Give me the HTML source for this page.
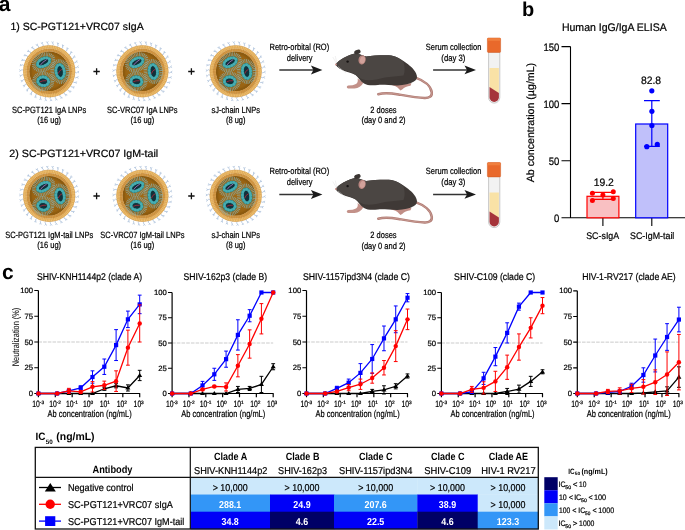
<!DOCTYPE html>
<html><head><meta charset="utf-8"><style>
html,body{margin:0;padding:0;background:#fff;}
svg{display:block;will-change:transform;font-family:"Liberation Sans",sans-serif;text-rendering:geometricPrecision;}
</style></head><body>
<svg width="685" height="530" viewBox="0 0 685 530">
<defs><radialGradient id="lnpin" cx="0.5" cy="0.5" r="0.5"><stop offset="0" stop-color="#a06915"/><stop offset="0.8" stop-color="#9a6413"/><stop offset="1" stop-color="#8c5a0e"/></radialGradient></defs>
<text x="-1.30" y="11.40" font-size="21" font-weight="bold" >a</text>
<text x="10.50" y="30.30" font-size="10.5" stroke="#000" stroke-width="0.22" textLength="133.20" lengthAdjust="spacingAndGlyphs" >1) SC-PGT121+VRC07 sIgA</text>
<g stroke="#a2b9d5" stroke-width="0.7" fill="none" stroke-linejoin="round"><path d="M74.89,72.07 L76.30,72.93 L77.79,72.01 M79.10,71.15 L77.79,72.01 L79.05,73.09"/><path d="M74.31,76.78 L75.54,77.88 L77.17,77.26 M78.62,76.65 L77.17,77.26 L78.21,78.55"/><path d="M72.88,81.30 L73.88,82.61 L75.60,82.29 M77.13,81.96 L75.60,82.29 L76.38,83.75"/><path d="M70.63,85.48 L71.38,86.95 L73.13,86.96 M74.70,86.91 L73.13,86.96 L73.63,88.54"/><path d="M67.66,89.18 L68.13,90.76 L69.85,91.09 M71.40,91.33 L69.85,91.09 L70.05,92.73"/><path d="M64.07,92.26 L64.23,93.91 L65.86,94.55 M67.34,95.07 L65.86,94.55 L65.76,96.20"/><path d="M59.96,94.64 L59.82,96.29 L61.30,97.21 M62.66,98.00 L61.30,97.21 L60.90,98.82"/><path d="M55.49,96.22 L55.05,97.81 L56.34,99.00 M57.53,100.02 L56.34,99.00 L55.64,100.50"/><path d="M50.80,96.95 L50.08,98.44 L51.13,99.84 M52.11,101.06 L51.13,99.84 L50.17,101.18"/><path d="M46.06,96.81 L45.08,98.14 L45.85,99.70 M46.59,101.09 L45.85,99.70 L44.66,100.85"/><path d="M41.43,95.80 L40.22,96.92 L40.69,98.60 M41.16,100.10 L40.69,98.60 L39.31,99.52"/><path d="M37.06,93.95 L35.66,94.83 L35.82,96.58 M36.01,98.13 L35.82,96.58 L34.29,97.22"/><path d="M33.10,91.34 L31.57,91.95 L31.40,93.69 M31.30,95.25 L31.40,93.69 L29.78,94.04"/><path d="M29.70,88.04 L28.08,88.35 L27.59,90.03 M27.20,91.55 L27.59,90.03 L25.94,90.08"/><path d="M26.95,84.17 L25.30,84.18 L24.52,85.74 M23.86,87.17 L24.52,85.74 L22.88,85.49"/><path d="M24.97,79.86 L23.34,79.57 L22.28,80.96 M21.37,82.24 L22.28,80.96 L20.72,80.41"/><path d="M23.81,75.26 L22.26,74.68 L20.96,75.85 M19.84,76.94 L20.96,75.85 L19.53,75.02"/><path d="M23.51,70.53 L22.10,69.67 L20.61,70.59 M19.30,71.45 L20.61,70.59 L19.35,69.51"/><path d="M24.09,65.82 L22.86,64.72 L21.23,65.34 M19.78,65.95 L21.23,65.34 L20.19,64.05"/><path d="M25.52,61.30 L24.52,59.99 L22.80,60.31 M21.27,60.64 L22.80,60.31 L22.02,58.85"/><path d="M27.77,57.12 L27.02,55.65 L25.27,55.64 M23.70,55.69 L25.27,55.64 L24.77,54.06"/><path d="M30.74,53.42 L30.27,51.84 L28.55,51.51 M27.00,51.27 L28.55,51.51 L28.35,49.87"/><path d="M34.33,50.34 L34.17,48.69 L32.54,48.05 M31.06,47.53 L32.54,48.05 L32.64,46.40"/><path d="M38.44,47.96 L38.58,46.31 L37.10,45.39 M35.74,44.60 L37.10,45.39 L37.50,43.78"/><path d="M42.91,46.38 L43.35,44.79 L42.06,43.60 M40.87,42.58 L42.06,43.60 L42.76,42.10"/><path d="M47.60,45.65 L48.32,44.16 L47.27,42.76 M46.29,41.54 L47.27,42.76 L48.23,41.42"/><path d="M52.34,45.79 L53.32,44.46 L52.55,42.90 M51.81,41.51 L52.55,42.90 L53.74,41.75"/><path d="M56.97,46.80 L58.18,45.68 L57.71,44.00 M57.24,42.50 L57.71,44.00 L59.09,43.08"/><path d="M61.34,48.65 L62.74,47.77 L62.58,46.02 M62.39,44.47 L62.58,46.02 L64.11,45.38"/><path d="M65.30,51.26 L66.83,50.65 L67.00,48.91 M67.10,47.35 L67.00,48.91 L68.62,48.56"/><path d="M68.70,54.56 L70.32,54.25 L70.81,52.57 M71.20,51.05 L70.81,52.57 L72.46,52.52"/><path d="M71.45,58.43 L73.10,58.42 L73.88,56.86 M74.54,55.43 L73.88,56.86 L75.52,57.11"/><path d="M73.43,62.74 L75.06,63.03 L76.12,61.64 M77.03,60.36 L76.12,61.64 L77.68,62.19"/><path d="M74.59,67.34 L76.14,67.92 L77.44,66.75 M78.56,65.66 L77.44,66.75 L78.87,67.58"/></g>
<circle cx="49.2" cy="71.3" r="19.9" fill="url(#lnpin)"/>
<circle cx="49.2" cy="71.3" r="24.3" fill="none" stroke="#eab765" stroke-width="3.2"/>
<circle cx="49.2" cy="71.3" r="21.3" fill="none" stroke="#d69c4a" stroke-width="3.0"/>
<circle cx="49.2" cy="71.3" r="24.9" fill="none" stroke="#f4cf86" stroke-width="1.2" stroke-dasharray="0.9 0.9" opacity="0.8"/>
<circle cx="49.2" cy="71.3" r="21.3" fill="none" stroke="#b77e30" stroke-width="3.0" stroke-dasharray="0.5 1.2" opacity="0.5"/>
<circle cx="49.2" cy="71.3" r="22.85" fill="none" stroke="#b98030" stroke-width="5.9" stroke-dasharray="0.5 1.05" opacity="0.35"/>
<circle cx="49.2" cy="71.3" r="25.75" fill="none" stroke="#d09645" stroke-width="0.5"/>
<circle cx="49.2" cy="71.3" r="18.7" fill="none" stroke="#8a5a10" stroke-width="2.0" opacity="0.7"/>
<g transform="translate(43.60,62.30) rotate(-27)"><ellipse rx="10.40" ry="7.50" fill="none" stroke="#89aaa2" stroke-width="3.6" stroke-dasharray="0.8 0.8" opacity="0.85"/><ellipse rx="6.60" ry="3.70" fill="#15333a" stroke="#2d8a90" stroke-width="3.4"/><ellipse rx="6.60" ry="3.70" fill="none" stroke="#48adb1" stroke-width="2.8" stroke-dasharray="0.01 2.7" stroke-linecap="round"/><ellipse rx="4.90" ry="2.00" fill="#12303a"/><path d="M-4.06,1.05 q2.90,-1.80 8.12,-2.10" stroke="#b77acb" stroke-width="0.7" fill="none"/></g>
<g transform="translate(60.10,71.50) rotate(-8)"><ellipse rx="7.90" ry="10.70" fill="none" stroke="#89aaa2" stroke-width="3.6" stroke-dasharray="0.8 0.8" opacity="0.85"/><ellipse rx="4.10" ry="6.90" fill="#15333a" stroke="#2d8a90" stroke-width="3.4"/><ellipse rx="4.10" ry="6.90" fill="none" stroke="#48adb1" stroke-width="2.8" stroke-dasharray="0.01 2.7" stroke-linecap="round"/><ellipse rx="2.40" ry="5.00" fill="#12303a"/><path d="M-2.17,1.89 q1.55,-3.24 4.34,-3.78" stroke="#c0283a" stroke-width="0.7" fill="none"/></g>
<g transform="translate(43.25,81.30) rotate(8)"><ellipse rx="9.25" ry="8.10" fill="none" stroke="#89aaa2" stroke-width="3.6" stroke-dasharray="0.8 0.8" opacity="0.85"/><ellipse rx="5.45" ry="4.30" fill="#15333a" stroke="#2d8a90" stroke-width="3.4"/><ellipse rx="5.45" ry="4.30" fill="none" stroke="#48adb1" stroke-width="2.8" stroke-dasharray="0.01 2.7" stroke-linecap="round"/><ellipse rx="3.75" ry="2.60" fill="#12303a"/><path d="M-3.15,1.05 q2.25,-1.80 6.30,-2.10" stroke="#c0283a" stroke-width="0.7" fill="none"/></g>
<g stroke="#a2b9d5" stroke-width="0.7" fill="none" stroke-linejoin="round"><path d="M168.09,72.07 L169.50,72.93 L170.99,72.01 M172.30,71.15 L170.99,72.01 L172.25,73.09"/><path d="M167.51,76.78 L168.74,77.88 L170.37,77.26 M171.82,76.65 L170.37,77.26 L171.41,78.55"/><path d="M166.08,81.30 L167.08,82.61 L168.80,82.29 M170.33,81.96 L168.80,82.29 L169.58,83.75"/><path d="M163.83,85.48 L164.58,86.95 L166.33,86.96 M167.90,86.91 L166.33,86.96 L166.83,88.54"/><path d="M160.86,89.18 L161.33,90.76 L163.05,91.09 M164.60,91.33 L163.05,91.09 L163.25,92.73"/><path d="M157.27,92.26 L157.43,93.91 L159.06,94.55 M160.54,95.07 L159.06,94.55 L158.96,96.20"/><path d="M153.16,94.64 L153.02,96.29 L154.50,97.21 M155.86,98.00 L154.50,97.21 L154.10,98.82"/><path d="M148.69,96.22 L148.25,97.81 L149.54,99.00 M150.73,100.02 L149.54,99.00 L148.84,100.50"/><path d="M144.00,96.95 L143.28,98.44 L144.33,99.84 M145.31,101.06 L144.33,99.84 L143.37,101.18"/><path d="M139.26,96.81 L138.28,98.14 L139.05,99.70 M139.79,101.09 L139.05,99.70 L137.86,100.85"/><path d="M134.63,95.80 L133.42,96.92 L133.89,98.60 M134.36,100.10 L133.89,98.60 L132.51,99.52"/><path d="M130.26,93.95 L128.86,94.83 L129.02,96.58 M129.21,98.13 L129.02,96.58 L127.49,97.22"/><path d="M126.30,91.34 L124.77,91.95 L124.60,93.69 M124.50,95.25 L124.60,93.69 L122.98,94.04"/><path d="M122.90,88.04 L121.28,88.35 L120.79,90.03 M120.40,91.55 L120.79,90.03 L119.14,90.08"/><path d="M120.15,84.17 L118.50,84.18 L117.72,85.74 M117.06,87.17 L117.72,85.74 L116.08,85.49"/><path d="M118.17,79.86 L116.54,79.57 L115.48,80.96 M114.57,82.24 L115.48,80.96 L113.92,80.41"/><path d="M117.01,75.26 L115.46,74.68 L114.16,75.85 M113.04,76.94 L114.16,75.85 L112.73,75.02"/><path d="M116.71,70.53 L115.30,69.67 L113.81,70.59 M112.50,71.45 L113.81,70.59 L112.55,69.51"/><path d="M117.29,65.82 L116.06,64.72 L114.43,65.34 M112.98,65.95 L114.43,65.34 L113.39,64.05"/><path d="M118.72,61.30 L117.72,59.99 L116.00,60.31 M114.47,60.64 L116.00,60.31 L115.22,58.85"/><path d="M120.97,57.12 L120.22,55.65 L118.47,55.64 M116.90,55.69 L118.47,55.64 L117.97,54.06"/><path d="M123.94,53.42 L123.47,51.84 L121.75,51.51 M120.20,51.27 L121.75,51.51 L121.55,49.87"/><path d="M127.53,50.34 L127.37,48.69 L125.74,48.05 M124.26,47.53 L125.74,48.05 L125.84,46.40"/><path d="M131.64,47.96 L131.78,46.31 L130.30,45.39 M128.94,44.60 L130.30,45.39 L130.70,43.78"/><path d="M136.11,46.38 L136.55,44.79 L135.26,43.60 M134.07,42.58 L135.26,43.60 L135.96,42.10"/><path d="M140.80,45.65 L141.52,44.16 L140.47,42.76 M139.49,41.54 L140.47,42.76 L141.43,41.42"/><path d="M145.54,45.79 L146.52,44.46 L145.75,42.90 M145.01,41.51 L145.75,42.90 L146.94,41.75"/><path d="M150.17,46.80 L151.38,45.68 L150.91,44.00 M150.44,42.50 L150.91,44.00 L152.29,43.08"/><path d="M154.54,48.65 L155.94,47.77 L155.78,46.02 M155.59,44.47 L155.78,46.02 L157.31,45.38"/><path d="M158.50,51.26 L160.03,50.65 L160.20,48.91 M160.30,47.35 L160.20,48.91 L161.82,48.56"/><path d="M161.90,54.56 L163.52,54.25 L164.01,52.57 M164.40,51.05 L164.01,52.57 L165.66,52.52"/><path d="M164.65,58.43 L166.30,58.42 L167.08,56.86 M167.74,55.43 L167.08,56.86 L168.72,57.11"/><path d="M166.63,62.74 L168.26,63.03 L169.32,61.64 M170.23,60.36 L169.32,61.64 L170.88,62.19"/><path d="M167.79,67.34 L169.34,67.92 L170.64,66.75 M171.76,65.66 L170.64,66.75 L172.07,67.58"/></g>
<circle cx="142.4" cy="71.3" r="19.9" fill="url(#lnpin)"/>
<circle cx="142.4" cy="71.3" r="24.3" fill="none" stroke="#eab765" stroke-width="3.2"/>
<circle cx="142.4" cy="71.3" r="21.3" fill="none" stroke="#d69c4a" stroke-width="3.0"/>
<circle cx="142.4" cy="71.3" r="24.9" fill="none" stroke="#f4cf86" stroke-width="1.2" stroke-dasharray="0.9 0.9" opacity="0.8"/>
<circle cx="142.4" cy="71.3" r="21.3" fill="none" stroke="#b77e30" stroke-width="3.0" stroke-dasharray="0.5 1.2" opacity="0.5"/>
<circle cx="142.4" cy="71.3" r="22.85" fill="none" stroke="#b98030" stroke-width="5.9" stroke-dasharray="0.5 1.05" opacity="0.35"/>
<circle cx="142.4" cy="71.3" r="25.75" fill="none" stroke="#d09645" stroke-width="0.5"/>
<circle cx="142.4" cy="71.3" r="18.7" fill="none" stroke="#8a5a10" stroke-width="2.0" opacity="0.7"/>
<g transform="translate(136.80,62.30) rotate(-27)"><ellipse rx="10.40" ry="7.50" fill="none" stroke="#89aaa2" stroke-width="3.6" stroke-dasharray="0.8 0.8" opacity="0.85"/><ellipse rx="6.60" ry="3.70" fill="#15333a" stroke="#2d8a90" stroke-width="3.4"/><ellipse rx="6.60" ry="3.70" fill="none" stroke="#48adb1" stroke-width="2.8" stroke-dasharray="0.01 2.7" stroke-linecap="round"/><ellipse rx="4.90" ry="2.00" fill="#12303a"/><path d="M-4.06,1.05 q2.90,-1.80 8.12,-2.10" stroke="#b77acb" stroke-width="0.7" fill="none"/></g>
<g transform="translate(153.30,71.50) rotate(-8)"><ellipse rx="7.90" ry="10.70" fill="none" stroke="#89aaa2" stroke-width="3.6" stroke-dasharray="0.8 0.8" opacity="0.85"/><ellipse rx="4.10" ry="6.90" fill="#15333a" stroke="#2d8a90" stroke-width="3.4"/><ellipse rx="4.10" ry="6.90" fill="none" stroke="#48adb1" stroke-width="2.8" stroke-dasharray="0.01 2.7" stroke-linecap="round"/><ellipse rx="2.40" ry="5.00" fill="#12303a"/><path d="M-2.17,1.89 q1.55,-3.24 4.34,-3.78" stroke="#c0283a" stroke-width="0.7" fill="none"/></g>
<g transform="translate(136.45,81.30) rotate(8)"><ellipse rx="9.25" ry="8.10" fill="none" stroke="#89aaa2" stroke-width="3.6" stroke-dasharray="0.8 0.8" opacity="0.85"/><ellipse rx="5.45" ry="4.30" fill="#15333a" stroke="#2d8a90" stroke-width="3.4"/><ellipse rx="5.45" ry="4.30" fill="none" stroke="#48adb1" stroke-width="2.8" stroke-dasharray="0.01 2.7" stroke-linecap="round"/><ellipse rx="3.75" ry="2.60" fill="#12303a"/><path d="M-3.15,1.05 q2.25,-1.80 6.30,-2.10" stroke="#c0283a" stroke-width="0.7" fill="none"/></g>
<g stroke="#a2b9d5" stroke-width="0.7" fill="none" stroke-linejoin="round"><path d="M261.39,72.07 L262.80,72.93 L264.29,72.01 M265.60,71.15 L264.29,72.01 L265.55,73.09"/><path d="M260.81,76.78 L262.04,77.88 L263.67,77.26 M265.12,76.65 L263.67,77.26 L264.71,78.55"/><path d="M259.38,81.30 L260.38,82.61 L262.10,82.29 M263.63,81.96 L262.10,82.29 L262.88,83.75"/><path d="M257.13,85.48 L257.88,86.95 L259.63,86.96 M261.20,86.91 L259.63,86.96 L260.13,88.54"/><path d="M254.16,89.18 L254.63,90.76 L256.35,91.09 M257.90,91.33 L256.35,91.09 L256.55,92.73"/><path d="M250.57,92.26 L250.73,93.91 L252.36,94.55 M253.84,95.07 L252.36,94.55 L252.26,96.20"/><path d="M246.46,94.64 L246.32,96.29 L247.80,97.21 M249.16,98.00 L247.80,97.21 L247.40,98.82"/><path d="M241.99,96.22 L241.55,97.81 L242.84,99.00 M244.03,100.02 L242.84,99.00 L242.14,100.50"/><path d="M237.30,96.95 L236.58,98.44 L237.63,99.84 M238.61,101.06 L237.63,99.84 L236.67,101.18"/><path d="M232.56,96.81 L231.58,98.14 L232.35,99.70 M233.09,101.09 L232.35,99.70 L231.16,100.85"/><path d="M227.93,95.80 L226.72,96.92 L227.19,98.60 M227.66,100.10 L227.19,98.60 L225.81,99.52"/><path d="M223.56,93.95 L222.16,94.83 L222.32,96.58 M222.51,98.13 L222.32,96.58 L220.79,97.22"/><path d="M219.60,91.34 L218.07,91.95 L217.90,93.69 M217.80,95.25 L217.90,93.69 L216.28,94.04"/><path d="M216.20,88.04 L214.58,88.35 L214.09,90.03 M213.70,91.55 L214.09,90.03 L212.44,90.08"/><path d="M213.45,84.17 L211.80,84.18 L211.02,85.74 M210.36,87.17 L211.02,85.74 L209.38,85.49"/><path d="M211.47,79.86 L209.84,79.57 L208.78,80.96 M207.87,82.24 L208.78,80.96 L207.22,80.41"/><path d="M210.31,75.26 L208.76,74.68 L207.46,75.85 M206.34,76.94 L207.46,75.85 L206.03,75.02"/><path d="M210.01,70.53 L208.60,69.67 L207.11,70.59 M205.80,71.45 L207.11,70.59 L205.85,69.51"/><path d="M210.59,65.82 L209.36,64.72 L207.73,65.34 M206.28,65.95 L207.73,65.34 L206.69,64.05"/><path d="M212.02,61.30 L211.02,59.99 L209.30,60.31 M207.77,60.64 L209.30,60.31 L208.52,58.85"/><path d="M214.27,57.12 L213.52,55.65 L211.77,55.64 M210.20,55.69 L211.77,55.64 L211.27,54.06"/><path d="M217.24,53.42 L216.77,51.84 L215.05,51.51 M213.50,51.27 L215.05,51.51 L214.85,49.87"/><path d="M220.83,50.34 L220.67,48.69 L219.04,48.05 M217.56,47.53 L219.04,48.05 L219.14,46.40"/><path d="M224.94,47.96 L225.08,46.31 L223.60,45.39 M222.24,44.60 L223.60,45.39 L224.00,43.78"/><path d="M229.41,46.38 L229.85,44.79 L228.56,43.60 M227.37,42.58 L228.56,43.60 L229.26,42.10"/><path d="M234.10,45.65 L234.82,44.16 L233.77,42.76 M232.79,41.54 L233.77,42.76 L234.73,41.42"/><path d="M238.84,45.79 L239.82,44.46 L239.05,42.90 M238.31,41.51 L239.05,42.90 L240.24,41.75"/><path d="M243.47,46.80 L244.68,45.68 L244.21,44.00 M243.74,42.50 L244.21,44.00 L245.59,43.08"/><path d="M247.84,48.65 L249.24,47.77 L249.08,46.02 M248.89,44.47 L249.08,46.02 L250.61,45.38"/><path d="M251.80,51.26 L253.33,50.65 L253.50,48.91 M253.60,47.35 L253.50,48.91 L255.12,48.56"/><path d="M255.20,54.56 L256.82,54.25 L257.31,52.57 M257.70,51.05 L257.31,52.57 L258.96,52.52"/><path d="M257.95,58.43 L259.60,58.42 L260.38,56.86 M261.04,55.43 L260.38,56.86 L262.02,57.11"/><path d="M259.93,62.74 L261.56,63.03 L262.62,61.64 M263.53,60.36 L262.62,61.64 L264.18,62.19"/><path d="M261.09,67.34 L262.64,67.92 L263.94,66.75 M265.06,65.66 L263.94,66.75 L265.37,67.58"/></g>
<circle cx="235.7" cy="71.3" r="19.9" fill="url(#lnpin)"/>
<circle cx="235.7" cy="71.3" r="24.3" fill="none" stroke="#eab765" stroke-width="3.2"/>
<circle cx="235.7" cy="71.3" r="21.3" fill="none" stroke="#d69c4a" stroke-width="3.0"/>
<circle cx="235.7" cy="71.3" r="24.9" fill="none" stroke="#f4cf86" stroke-width="1.2" stroke-dasharray="0.9 0.9" opacity="0.8"/>
<circle cx="235.7" cy="71.3" r="21.3" fill="none" stroke="#b77e30" stroke-width="3.0" stroke-dasharray="0.5 1.2" opacity="0.5"/>
<circle cx="235.7" cy="71.3" r="22.85" fill="none" stroke="#b98030" stroke-width="5.9" stroke-dasharray="0.5 1.05" opacity="0.35"/>
<circle cx="235.7" cy="71.3" r="25.75" fill="none" stroke="#d09645" stroke-width="0.5"/>
<circle cx="235.7" cy="71.3" r="18.7" fill="none" stroke="#8a5a10" stroke-width="2.0" opacity="0.7"/>
<g transform="translate(230.10,62.30) rotate(-27)"><ellipse rx="10.40" ry="7.50" fill="none" stroke="#89aaa2" stroke-width="3.6" stroke-dasharray="0.8 0.8" opacity="0.85"/><ellipse rx="6.60" ry="3.70" fill="#15333a" stroke="#2d8a90" stroke-width="3.4"/><ellipse rx="6.60" ry="3.70" fill="none" stroke="#48adb1" stroke-width="2.8" stroke-dasharray="0.01 2.7" stroke-linecap="round"/><ellipse rx="4.90" ry="2.00" fill="#12303a"/><path d="M-4.06,1.05 q2.90,-1.80 8.12,-2.10" stroke="#b77acb" stroke-width="0.7" fill="none"/></g>
<g transform="translate(246.60,71.50) rotate(-8)"><ellipse rx="7.90" ry="10.70" fill="none" stroke="#89aaa2" stroke-width="3.6" stroke-dasharray="0.8 0.8" opacity="0.85"/><ellipse rx="4.10" ry="6.90" fill="#15333a" stroke="#2d8a90" stroke-width="3.4"/><ellipse rx="4.10" ry="6.90" fill="none" stroke="#48adb1" stroke-width="2.8" stroke-dasharray="0.01 2.7" stroke-linecap="round"/><ellipse rx="2.40" ry="5.00" fill="#12303a"/><path d="M-2.17,1.89 q1.55,-3.24 4.34,-3.78" stroke="#c0283a" stroke-width="0.7" fill="none"/></g>
<g transform="translate(229.75,81.30) rotate(8)"><ellipse rx="9.25" ry="8.10" fill="none" stroke="#89aaa2" stroke-width="3.6" stroke-dasharray="0.8 0.8" opacity="0.85"/><ellipse rx="5.45" ry="4.30" fill="#15333a" stroke="#2d8a90" stroke-width="3.4"/><ellipse rx="5.45" ry="4.30" fill="none" stroke="#48adb1" stroke-width="2.8" stroke-dasharray="0.01 2.7" stroke-linecap="round"/><ellipse rx="3.75" ry="2.60" fill="#12303a"/><path d="M-3.15,1.05 q2.25,-1.80 6.30,-2.10" stroke="#c0283a" stroke-width="0.7" fill="none"/></g>
<path d="M93.39999999999999,71.5 h6.4 M96.6,68.3 v6.4" stroke="#111" stroke-width="1.3"/>
<path d="M188.20000000000002,71.5 h6.4 M191.4,68.3 v6.4" stroke="#111" stroke-width="1.3"/>
<text x="12.03" y="112.80" font-size="9.1" stroke="#000" stroke-width="0.22" textLength="74.27" lengthAdjust="spacingAndGlyphs" >SC-PGT121 IgA LNPs</text>
<text x="37.31" y="123.30" font-size="9.1" stroke="#000" stroke-width="0.22" textLength="23.79" lengthAdjust="spacingAndGlyphs" >(16 ug)</text>
<text x="107.11" y="112.80" font-size="9.1" stroke="#000" stroke-width="0.22" textLength="70.52" lengthAdjust="spacingAndGlyphs" >SC-VRC07 IgA LNPs</text>
<text x="130.51" y="123.30" font-size="9.1" stroke="#000" stroke-width="0.22" textLength="23.79" lengthAdjust="spacingAndGlyphs" >(16 ug)</text>
<text x="211.53" y="112.80" font-size="9.1" stroke="#000" stroke-width="0.22" textLength="48.40" lengthAdjust="spacingAndGlyphs" >sJ-chain LNPs</text>
<text x="225.90" y="123.30" font-size="9.1" stroke="#000" stroke-width="0.22" textLength="19.61" lengthAdjust="spacingAndGlyphs" >(8 ug)</text>
<text x="269.50" y="49.70" font-size="9.1" stroke="#000" stroke-width="0.22" textLength="59.65" lengthAdjust="spacingAndGlyphs" >Retro-orbital (RO)</text>
<text x="286.71" y="60.70" font-size="9.1" stroke="#000" stroke-width="0.22" textLength="25.87" lengthAdjust="spacingAndGlyphs" >delivery</text>
<line x1="279.3" y1="70" x2="316.4" y2="70" stroke="#333" stroke-width="1.5"/>
<path d="M322.4,70 L310.9,65.6 L313.4,70 L310.9,74.4 Z" fill="#1a1a1a"/>
<g transform="translate(0,0)">
<path d="M415.5,77.6 C424,80.5 431,86 431.8,92.5 C432.2,96.5 429,98.2 424.5,98 C416,97.6 406,95.7 398.5,94.4 C390.5,93 383.5,92.6 378.3,94.2" stroke="#b07c74" stroke-width="2.5" fill="none" stroke-linecap="round"/>
<path d="M415.5,77.6 C424,80.5 431,86 431.8,92.5 C432.2,96.5 429,98.2 424.5,98 C416,97.6 406,95.7 398.5,94.4 C390.5,93 383.5,92.6 378.3,94.2" stroke="#c99c94" stroke-width="0.9" fill="none" stroke-linecap="round"/>
<path d="M390.5,84.6 C394,85.8 397.5,86.8 399,89 L400.5,90.4 L402.5,89.2 C404,87.5 407,86.5 410.5,85.8 L411.5,83.2 Z" fill="#c08d85"/>
<path d="M357.5,78.5 C358.5,82 357,84.5 352.5,85.2 L348,85.6 C346.3,86.2 346.4,88.2 348.2,88.6 L354.5,88.6 C358.5,88.3 361.5,86.3 363.5,82.5 Z" fill="#c39189"/>
<path d="M335.5,64.4 C339,59.5 347,55.5 353.9,53.7 C358,52.8 362,55.5 366.2,56.5 C372,55.6 382,55 388.8,55.3 C396,55.8 402,59.5 406.3,63.1 C411,66.5 415.5,70.5 416.8,75.4 C417.5,78 416.5,80 413.5,81.8 C410,84 404,85.2 397.5,85.5 C390,85.6 384,84.5 378,85 C372,85.6 367,85.4 364,83.5 C360,81 358.5,77.5 355.6,74.9 C352,73 348,72.2 345.1,71.2 C341,69.6 337.5,67.8 335.5,64.4 Z" fill="#3f3936"/>
<path d="M335.5,64.4 C339,59.5 347,55.5 353.9,53.7 C358,52.8 362,55.5 366.2,56.5 C372,55.6 382,55 388.8,55.3 C395,55.7 400,58.5 403.5,62 C405,67 405,72 403.5,75.4 C398,76.5 390,76.2 385,77.5 C378,79.5 371,80.5 365.5,80 C361,79 358.5,77 355.6,74.9 C352,72.5 348,71.6 345.1,70.5 C341,69 337.5,67.6 335.5,64.4 Z" fill="#4b4643"/>
<ellipse cx="357.4" cy="51.9" rx="3.3" ry="2.1" transform="rotate(-18 357.4 51.9)" fill="#3a3532"/>
<ellipse cx="362.1" cy="59.8" rx="3.6" ry="4.7" transform="rotate(12 362.1 59.8)" fill="#b8857f"/>
<ellipse cx="362.5" cy="60" rx="2.5" ry="3.6" transform="rotate(12 362.5 60)" fill="#d2a29b"/>
<circle cx="347.6" cy="61.6" r="1.2" fill="#151212"/>
<ellipse cx="335.9" cy="64.5" rx="0.9" ry="1.1" fill="#d49a94"/>
<path d="M336.3,63.2 l-3.5,-6.2 M336.8,63 l-1.5,-7 M338,66.5 l8,6.5" stroke="#e0e0e0" stroke-width="0.45"/>
</g>
<text x="370.30" y="112.70" font-size="9.1" stroke="#000" stroke-width="0.22" textLength="26.29" lengthAdjust="spacingAndGlyphs" >2 doses</text>
<text x="361.38" y="123.00" font-size="9.1" stroke="#000" stroke-width="0.22" textLength="44.24" lengthAdjust="spacingAndGlyphs" >(day 0 and 2)</text>
<text x="425.82" y="49.70" font-size="9.1" stroke="#000" stroke-width="0.22" textLength="55.50" lengthAdjust="spacingAndGlyphs" >Serum collection</text>
<text x="441.36" y="60.60" font-size="9.1" stroke="#000" stroke-width="0.22" textLength="24.07" lengthAdjust="spacingAndGlyphs" >(day 3)</text>
<line x1="433.1" y1="69.9" x2="470" y2="69.9" stroke="#333" stroke-width="1.5"/>
<path d="M476,69.9 L464.5,65.5 L467,69.9 L464.5,74.30000000000001 Z" fill="#1a1a1a"/>
<g transform="translate(0,0)">
<path d="M488.6,52 L488.6,97.5 A5.6,5.6 0 0 0 499.8,97.5 L499.8,52 Z" fill="#f2f2f2" stroke="#bdbdbd" stroke-width="0.8"/>
<path d="M489.5,68 L498.9,68 L498.9,93.2 L489.5,87.2 Z" fill="#f9e2a6"/>
<path d="M489.5,87.0 L498.9,93.0 L498.9,97.2 A4.7,4.7 0 0 1 489.5,97.2 Z" fill="#a5343a"/>
<rect x="487.4" y="38.0" width="13.2" height="14.4" rx="1" fill="#e9692b" stroke="#cf5820" stroke-width="0.5"/>
<rect x="487.6" y="38.2" width="12.8" height="2.6" fill="#f07f3e"/>
</g>
<text x="9.37" y="156.80" font-size="10.5" stroke="#000" stroke-width="0.22" textLength="148.84" lengthAdjust="spacingAndGlyphs" >2) SC-PGT121+VRC07 IgM-tail</text>
<g stroke="#a2b9d5" stroke-width="0.7" fill="none" stroke-linejoin="round"><path d="M74.89,196.57 L76.30,197.43 L77.79,196.51 M79.10,195.65 L77.79,196.51 L79.05,197.59"/><path d="M74.31,201.28 L75.54,202.38 L77.17,201.76 M78.62,201.15 L77.17,201.76 L78.21,203.05"/><path d="M72.88,205.80 L73.88,207.11 L75.60,206.79 M77.13,206.46 L75.60,206.79 L76.38,208.25"/><path d="M70.63,209.98 L71.38,211.45 L73.13,211.46 M74.70,211.41 L73.13,211.46 L73.63,213.04"/><path d="M67.66,213.68 L68.13,215.26 L69.85,215.59 M71.40,215.83 L69.85,215.59 L70.05,217.23"/><path d="M64.07,216.76 L64.23,218.41 L65.86,219.05 M67.34,219.57 L65.86,219.05 L65.76,220.70"/><path d="M59.96,219.14 L59.82,220.79 L61.30,221.71 M62.66,222.50 L61.30,221.71 L60.90,223.32"/><path d="M55.49,220.72 L55.05,222.31 L56.34,223.50 M57.53,224.52 L56.34,223.50 L55.64,225.00"/><path d="M50.80,221.45 L50.08,222.94 L51.13,224.34 M52.11,225.56 L51.13,224.34 L50.17,225.68"/><path d="M46.06,221.31 L45.08,222.64 L45.85,224.20 M46.59,225.59 L45.85,224.20 L44.66,225.35"/><path d="M41.43,220.30 L40.22,221.42 L40.69,223.10 M41.16,224.60 L40.69,223.10 L39.31,224.02"/><path d="M37.06,218.45 L35.66,219.33 L35.82,221.08 M36.01,222.63 L35.82,221.08 L34.29,221.72"/><path d="M33.10,215.84 L31.57,216.45 L31.40,218.19 M31.30,219.75 L31.40,218.19 L29.78,218.54"/><path d="M29.70,212.54 L28.08,212.85 L27.59,214.53 M27.20,216.05 L27.59,214.53 L25.94,214.58"/><path d="M26.95,208.67 L25.30,208.68 L24.52,210.24 M23.86,211.67 L24.52,210.24 L22.88,209.99"/><path d="M24.97,204.36 L23.34,204.07 L22.28,205.46 M21.37,206.74 L22.28,205.46 L20.72,204.91"/><path d="M23.81,199.76 L22.26,199.18 L20.96,200.35 M19.84,201.44 L20.96,200.35 L19.53,199.52"/><path d="M23.51,195.03 L22.10,194.17 L20.61,195.09 M19.30,195.95 L20.61,195.09 L19.35,194.01"/><path d="M24.09,190.32 L22.86,189.22 L21.23,189.84 M19.78,190.45 L21.23,189.84 L20.19,188.55"/><path d="M25.52,185.80 L24.52,184.49 L22.80,184.81 M21.27,185.14 L22.80,184.81 L22.02,183.35"/><path d="M27.77,181.62 L27.02,180.15 L25.27,180.14 M23.70,180.19 L25.27,180.14 L24.77,178.56"/><path d="M30.74,177.92 L30.27,176.34 L28.55,176.01 M27.00,175.77 L28.55,176.01 L28.35,174.37"/><path d="M34.33,174.84 L34.17,173.19 L32.54,172.55 M31.06,172.03 L32.54,172.55 L32.64,170.90"/><path d="M38.44,172.46 L38.58,170.81 L37.10,169.89 M35.74,169.10 L37.10,169.89 L37.50,168.28"/><path d="M42.91,170.88 L43.35,169.29 L42.06,168.10 M40.87,167.08 L42.06,168.10 L42.76,166.60"/><path d="M47.60,170.15 L48.32,168.66 L47.27,167.26 M46.29,166.04 L47.27,167.26 L48.23,165.92"/><path d="M52.34,170.29 L53.32,168.96 L52.55,167.40 M51.81,166.01 L52.55,167.40 L53.74,166.25"/><path d="M56.97,171.30 L58.18,170.18 L57.71,168.50 M57.24,167.00 L57.71,168.50 L59.09,167.58"/><path d="M61.34,173.15 L62.74,172.27 L62.58,170.52 M62.39,168.97 L62.58,170.52 L64.11,169.88"/><path d="M65.30,175.76 L66.83,175.15 L67.00,173.41 M67.10,171.85 L67.00,173.41 L68.62,173.06"/><path d="M68.70,179.06 L70.32,178.75 L70.81,177.07 M71.20,175.55 L70.81,177.07 L72.46,177.02"/><path d="M71.45,182.93 L73.10,182.92 L73.88,181.36 M74.54,179.93 L73.88,181.36 L75.52,181.61"/><path d="M73.43,187.24 L75.06,187.53 L76.12,186.14 M77.03,184.86 L76.12,186.14 L77.68,186.69"/><path d="M74.59,191.84 L76.14,192.42 L77.44,191.25 M78.56,190.16 L77.44,191.25 L78.87,192.08"/></g>
<circle cx="49.2" cy="195.8" r="19.9" fill="url(#lnpin)"/>
<circle cx="49.2" cy="195.8" r="24.3" fill="none" stroke="#eab765" stroke-width="3.2"/>
<circle cx="49.2" cy="195.8" r="21.3" fill="none" stroke="#d69c4a" stroke-width="3.0"/>
<circle cx="49.2" cy="195.8" r="24.9" fill="none" stroke="#f4cf86" stroke-width="1.2" stroke-dasharray="0.9 0.9" opacity="0.8"/>
<circle cx="49.2" cy="195.8" r="21.3" fill="none" stroke="#b77e30" stroke-width="3.0" stroke-dasharray="0.5 1.2" opacity="0.5"/>
<circle cx="49.2" cy="195.8" r="22.85" fill="none" stroke="#b98030" stroke-width="5.9" stroke-dasharray="0.5 1.05" opacity="0.35"/>
<circle cx="49.2" cy="195.8" r="25.75" fill="none" stroke="#d09645" stroke-width="0.5"/>
<circle cx="49.2" cy="195.8" r="18.7" fill="none" stroke="#8a5a10" stroke-width="2.0" opacity="0.7"/>
<g transform="translate(43.60,186.80) rotate(-27)"><ellipse rx="10.40" ry="7.50" fill="none" stroke="#89aaa2" stroke-width="3.6" stroke-dasharray="0.8 0.8" opacity="0.85"/><ellipse rx="6.60" ry="3.70" fill="#15333a" stroke="#2d8a90" stroke-width="3.4"/><ellipse rx="6.60" ry="3.70" fill="none" stroke="#48adb1" stroke-width="2.8" stroke-dasharray="0.01 2.7" stroke-linecap="round"/><ellipse rx="4.90" ry="2.00" fill="#12303a"/><path d="M-4.06,1.05 q2.90,-1.80 8.12,-2.10" stroke="#b77acb" stroke-width="0.7" fill="none"/></g>
<g transform="translate(60.10,196.00) rotate(-8)"><ellipse rx="7.90" ry="10.70" fill="none" stroke="#89aaa2" stroke-width="3.6" stroke-dasharray="0.8 0.8" opacity="0.85"/><ellipse rx="4.10" ry="6.90" fill="#15333a" stroke="#2d8a90" stroke-width="3.4"/><ellipse rx="4.10" ry="6.90" fill="none" stroke="#48adb1" stroke-width="2.8" stroke-dasharray="0.01 2.7" stroke-linecap="round"/><ellipse rx="2.40" ry="5.00" fill="#12303a"/><path d="M-2.17,1.89 q1.55,-3.24 4.34,-3.78" stroke="#c0283a" stroke-width="0.7" fill="none"/></g>
<g transform="translate(43.25,205.80) rotate(8)"><ellipse rx="9.25" ry="8.10" fill="none" stroke="#89aaa2" stroke-width="3.6" stroke-dasharray="0.8 0.8" opacity="0.85"/><ellipse rx="5.45" ry="4.30" fill="#15333a" stroke="#2d8a90" stroke-width="3.4"/><ellipse rx="5.45" ry="4.30" fill="none" stroke="#48adb1" stroke-width="2.8" stroke-dasharray="0.01 2.7" stroke-linecap="round"/><ellipse rx="3.75" ry="2.60" fill="#12303a"/><path d="M-3.15,1.05 q2.25,-1.80 6.30,-2.10" stroke="#c0283a" stroke-width="0.7" fill="none"/></g>
<g stroke="#a2b9d5" stroke-width="0.7" fill="none" stroke-linejoin="round"><path d="M168.09,196.57 L169.50,197.43 L170.99,196.51 M172.30,195.65 L170.99,196.51 L172.25,197.59"/><path d="M167.51,201.28 L168.74,202.38 L170.37,201.76 M171.82,201.15 L170.37,201.76 L171.41,203.05"/><path d="M166.08,205.80 L167.08,207.11 L168.80,206.79 M170.33,206.46 L168.80,206.79 L169.58,208.25"/><path d="M163.83,209.98 L164.58,211.45 L166.33,211.46 M167.90,211.41 L166.33,211.46 L166.83,213.04"/><path d="M160.86,213.68 L161.33,215.26 L163.05,215.59 M164.60,215.83 L163.05,215.59 L163.25,217.23"/><path d="M157.27,216.76 L157.43,218.41 L159.06,219.05 M160.54,219.57 L159.06,219.05 L158.96,220.70"/><path d="M153.16,219.14 L153.02,220.79 L154.50,221.71 M155.86,222.50 L154.50,221.71 L154.10,223.32"/><path d="M148.69,220.72 L148.25,222.31 L149.54,223.50 M150.73,224.52 L149.54,223.50 L148.84,225.00"/><path d="M144.00,221.45 L143.28,222.94 L144.33,224.34 M145.31,225.56 L144.33,224.34 L143.37,225.68"/><path d="M139.26,221.31 L138.28,222.64 L139.05,224.20 M139.79,225.59 L139.05,224.20 L137.86,225.35"/><path d="M134.63,220.30 L133.42,221.42 L133.89,223.10 M134.36,224.60 L133.89,223.10 L132.51,224.02"/><path d="M130.26,218.45 L128.86,219.33 L129.02,221.08 M129.21,222.63 L129.02,221.08 L127.49,221.72"/><path d="M126.30,215.84 L124.77,216.45 L124.60,218.19 M124.50,219.75 L124.60,218.19 L122.98,218.54"/><path d="M122.90,212.54 L121.28,212.85 L120.79,214.53 M120.40,216.05 L120.79,214.53 L119.14,214.58"/><path d="M120.15,208.67 L118.50,208.68 L117.72,210.24 M117.06,211.67 L117.72,210.24 L116.08,209.99"/><path d="M118.17,204.36 L116.54,204.07 L115.48,205.46 M114.57,206.74 L115.48,205.46 L113.92,204.91"/><path d="M117.01,199.76 L115.46,199.18 L114.16,200.35 M113.04,201.44 L114.16,200.35 L112.73,199.52"/><path d="M116.71,195.03 L115.30,194.17 L113.81,195.09 M112.50,195.95 L113.81,195.09 L112.55,194.01"/><path d="M117.29,190.32 L116.06,189.22 L114.43,189.84 M112.98,190.45 L114.43,189.84 L113.39,188.55"/><path d="M118.72,185.80 L117.72,184.49 L116.00,184.81 M114.47,185.14 L116.00,184.81 L115.22,183.35"/><path d="M120.97,181.62 L120.22,180.15 L118.47,180.14 M116.90,180.19 L118.47,180.14 L117.97,178.56"/><path d="M123.94,177.92 L123.47,176.34 L121.75,176.01 M120.20,175.77 L121.75,176.01 L121.55,174.37"/><path d="M127.53,174.84 L127.37,173.19 L125.74,172.55 M124.26,172.03 L125.74,172.55 L125.84,170.90"/><path d="M131.64,172.46 L131.78,170.81 L130.30,169.89 M128.94,169.10 L130.30,169.89 L130.70,168.28"/><path d="M136.11,170.88 L136.55,169.29 L135.26,168.10 M134.07,167.08 L135.26,168.10 L135.96,166.60"/><path d="M140.80,170.15 L141.52,168.66 L140.47,167.26 M139.49,166.04 L140.47,167.26 L141.43,165.92"/><path d="M145.54,170.29 L146.52,168.96 L145.75,167.40 M145.01,166.01 L145.75,167.40 L146.94,166.25"/><path d="M150.17,171.30 L151.38,170.18 L150.91,168.50 M150.44,167.00 L150.91,168.50 L152.29,167.58"/><path d="M154.54,173.15 L155.94,172.27 L155.78,170.52 M155.59,168.97 L155.78,170.52 L157.31,169.88"/><path d="M158.50,175.76 L160.03,175.15 L160.20,173.41 M160.30,171.85 L160.20,173.41 L161.82,173.06"/><path d="M161.90,179.06 L163.52,178.75 L164.01,177.07 M164.40,175.55 L164.01,177.07 L165.66,177.02"/><path d="M164.65,182.93 L166.30,182.92 L167.08,181.36 M167.74,179.93 L167.08,181.36 L168.72,181.61"/><path d="M166.63,187.24 L168.26,187.53 L169.32,186.14 M170.23,184.86 L169.32,186.14 L170.88,186.69"/><path d="M167.79,191.84 L169.34,192.42 L170.64,191.25 M171.76,190.16 L170.64,191.25 L172.07,192.08"/></g>
<circle cx="142.4" cy="195.8" r="19.9" fill="url(#lnpin)"/>
<circle cx="142.4" cy="195.8" r="24.3" fill="none" stroke="#eab765" stroke-width="3.2"/>
<circle cx="142.4" cy="195.8" r="21.3" fill="none" stroke="#d69c4a" stroke-width="3.0"/>
<circle cx="142.4" cy="195.8" r="24.9" fill="none" stroke="#f4cf86" stroke-width="1.2" stroke-dasharray="0.9 0.9" opacity="0.8"/>
<circle cx="142.4" cy="195.8" r="21.3" fill="none" stroke="#b77e30" stroke-width="3.0" stroke-dasharray="0.5 1.2" opacity="0.5"/>
<circle cx="142.4" cy="195.8" r="22.85" fill="none" stroke="#b98030" stroke-width="5.9" stroke-dasharray="0.5 1.05" opacity="0.35"/>
<circle cx="142.4" cy="195.8" r="25.75" fill="none" stroke="#d09645" stroke-width="0.5"/>
<circle cx="142.4" cy="195.8" r="18.7" fill="none" stroke="#8a5a10" stroke-width="2.0" opacity="0.7"/>
<g transform="translate(136.80,186.80) rotate(-27)"><ellipse rx="10.40" ry="7.50" fill="none" stroke="#89aaa2" stroke-width="3.6" stroke-dasharray="0.8 0.8" opacity="0.85"/><ellipse rx="6.60" ry="3.70" fill="#15333a" stroke="#2d8a90" stroke-width="3.4"/><ellipse rx="6.60" ry="3.70" fill="none" stroke="#48adb1" stroke-width="2.8" stroke-dasharray="0.01 2.7" stroke-linecap="round"/><ellipse rx="4.90" ry="2.00" fill="#12303a"/><path d="M-4.06,1.05 q2.90,-1.80 8.12,-2.10" stroke="#b77acb" stroke-width="0.7" fill="none"/></g>
<g transform="translate(153.30,196.00) rotate(-8)"><ellipse rx="7.90" ry="10.70" fill="none" stroke="#89aaa2" stroke-width="3.6" stroke-dasharray="0.8 0.8" opacity="0.85"/><ellipse rx="4.10" ry="6.90" fill="#15333a" stroke="#2d8a90" stroke-width="3.4"/><ellipse rx="4.10" ry="6.90" fill="none" stroke="#48adb1" stroke-width="2.8" stroke-dasharray="0.01 2.7" stroke-linecap="round"/><ellipse rx="2.40" ry="5.00" fill="#12303a"/><path d="M-2.17,1.89 q1.55,-3.24 4.34,-3.78" stroke="#c0283a" stroke-width="0.7" fill="none"/></g>
<g transform="translate(136.45,205.80) rotate(8)"><ellipse rx="9.25" ry="8.10" fill="none" stroke="#89aaa2" stroke-width="3.6" stroke-dasharray="0.8 0.8" opacity="0.85"/><ellipse rx="5.45" ry="4.30" fill="#15333a" stroke="#2d8a90" stroke-width="3.4"/><ellipse rx="5.45" ry="4.30" fill="none" stroke="#48adb1" stroke-width="2.8" stroke-dasharray="0.01 2.7" stroke-linecap="round"/><ellipse rx="3.75" ry="2.60" fill="#12303a"/><path d="M-3.15,1.05 q2.25,-1.80 6.30,-2.10" stroke="#c0283a" stroke-width="0.7" fill="none"/></g>
<g stroke="#a2b9d5" stroke-width="0.7" fill="none" stroke-linejoin="round"><path d="M261.39,196.57 L262.80,197.43 L264.29,196.51 M265.60,195.65 L264.29,196.51 L265.55,197.59"/><path d="M260.81,201.28 L262.04,202.38 L263.67,201.76 M265.12,201.15 L263.67,201.76 L264.71,203.05"/><path d="M259.38,205.80 L260.38,207.11 L262.10,206.79 M263.63,206.46 L262.10,206.79 L262.88,208.25"/><path d="M257.13,209.98 L257.88,211.45 L259.63,211.46 M261.20,211.41 L259.63,211.46 L260.13,213.04"/><path d="M254.16,213.68 L254.63,215.26 L256.35,215.59 M257.90,215.83 L256.35,215.59 L256.55,217.23"/><path d="M250.57,216.76 L250.73,218.41 L252.36,219.05 M253.84,219.57 L252.36,219.05 L252.26,220.70"/><path d="M246.46,219.14 L246.32,220.79 L247.80,221.71 M249.16,222.50 L247.80,221.71 L247.40,223.32"/><path d="M241.99,220.72 L241.55,222.31 L242.84,223.50 M244.03,224.52 L242.84,223.50 L242.14,225.00"/><path d="M237.30,221.45 L236.58,222.94 L237.63,224.34 M238.61,225.56 L237.63,224.34 L236.67,225.68"/><path d="M232.56,221.31 L231.58,222.64 L232.35,224.20 M233.09,225.59 L232.35,224.20 L231.16,225.35"/><path d="M227.93,220.30 L226.72,221.42 L227.19,223.10 M227.66,224.60 L227.19,223.10 L225.81,224.02"/><path d="M223.56,218.45 L222.16,219.33 L222.32,221.08 M222.51,222.63 L222.32,221.08 L220.79,221.72"/><path d="M219.60,215.84 L218.07,216.45 L217.90,218.19 M217.80,219.75 L217.90,218.19 L216.28,218.54"/><path d="M216.20,212.54 L214.58,212.85 L214.09,214.53 M213.70,216.05 L214.09,214.53 L212.44,214.58"/><path d="M213.45,208.67 L211.80,208.68 L211.02,210.24 M210.36,211.67 L211.02,210.24 L209.38,209.99"/><path d="M211.47,204.36 L209.84,204.07 L208.78,205.46 M207.87,206.74 L208.78,205.46 L207.22,204.91"/><path d="M210.31,199.76 L208.76,199.18 L207.46,200.35 M206.34,201.44 L207.46,200.35 L206.03,199.52"/><path d="M210.01,195.03 L208.60,194.17 L207.11,195.09 M205.80,195.95 L207.11,195.09 L205.85,194.01"/><path d="M210.59,190.32 L209.36,189.22 L207.73,189.84 M206.28,190.45 L207.73,189.84 L206.69,188.55"/><path d="M212.02,185.80 L211.02,184.49 L209.30,184.81 M207.77,185.14 L209.30,184.81 L208.52,183.35"/><path d="M214.27,181.62 L213.52,180.15 L211.77,180.14 M210.20,180.19 L211.77,180.14 L211.27,178.56"/><path d="M217.24,177.92 L216.77,176.34 L215.05,176.01 M213.50,175.77 L215.05,176.01 L214.85,174.37"/><path d="M220.83,174.84 L220.67,173.19 L219.04,172.55 M217.56,172.03 L219.04,172.55 L219.14,170.90"/><path d="M224.94,172.46 L225.08,170.81 L223.60,169.89 M222.24,169.10 L223.60,169.89 L224.00,168.28"/><path d="M229.41,170.88 L229.85,169.29 L228.56,168.10 M227.37,167.08 L228.56,168.10 L229.26,166.60"/><path d="M234.10,170.15 L234.82,168.66 L233.77,167.26 M232.79,166.04 L233.77,167.26 L234.73,165.92"/><path d="M238.84,170.29 L239.82,168.96 L239.05,167.40 M238.31,166.01 L239.05,167.40 L240.24,166.25"/><path d="M243.47,171.30 L244.68,170.18 L244.21,168.50 M243.74,167.00 L244.21,168.50 L245.59,167.58"/><path d="M247.84,173.15 L249.24,172.27 L249.08,170.52 M248.89,168.97 L249.08,170.52 L250.61,169.88"/><path d="M251.80,175.76 L253.33,175.15 L253.50,173.41 M253.60,171.85 L253.50,173.41 L255.12,173.06"/><path d="M255.20,179.06 L256.82,178.75 L257.31,177.07 M257.70,175.55 L257.31,177.07 L258.96,177.02"/><path d="M257.95,182.93 L259.60,182.92 L260.38,181.36 M261.04,179.93 L260.38,181.36 L262.02,181.61"/><path d="M259.93,187.24 L261.56,187.53 L262.62,186.14 M263.53,184.86 L262.62,186.14 L264.18,186.69"/><path d="M261.09,191.84 L262.64,192.42 L263.94,191.25 M265.06,190.16 L263.94,191.25 L265.37,192.08"/></g>
<circle cx="235.7" cy="195.8" r="19.9" fill="url(#lnpin)"/>
<circle cx="235.7" cy="195.8" r="24.3" fill="none" stroke="#eab765" stroke-width="3.2"/>
<circle cx="235.7" cy="195.8" r="21.3" fill="none" stroke="#d69c4a" stroke-width="3.0"/>
<circle cx="235.7" cy="195.8" r="24.9" fill="none" stroke="#f4cf86" stroke-width="1.2" stroke-dasharray="0.9 0.9" opacity="0.8"/>
<circle cx="235.7" cy="195.8" r="21.3" fill="none" stroke="#b77e30" stroke-width="3.0" stroke-dasharray="0.5 1.2" opacity="0.5"/>
<circle cx="235.7" cy="195.8" r="22.85" fill="none" stroke="#b98030" stroke-width="5.9" stroke-dasharray="0.5 1.05" opacity="0.35"/>
<circle cx="235.7" cy="195.8" r="25.75" fill="none" stroke="#d09645" stroke-width="0.5"/>
<circle cx="235.7" cy="195.8" r="18.7" fill="none" stroke="#8a5a10" stroke-width="2.0" opacity="0.7"/>
<g transform="translate(230.10,186.80) rotate(-27)"><ellipse rx="10.40" ry="7.50" fill="none" stroke="#89aaa2" stroke-width="3.6" stroke-dasharray="0.8 0.8" opacity="0.85"/><ellipse rx="6.60" ry="3.70" fill="#15333a" stroke="#2d8a90" stroke-width="3.4"/><ellipse rx="6.60" ry="3.70" fill="none" stroke="#48adb1" stroke-width="2.8" stroke-dasharray="0.01 2.7" stroke-linecap="round"/><ellipse rx="4.90" ry="2.00" fill="#12303a"/><path d="M-4.06,1.05 q2.90,-1.80 8.12,-2.10" stroke="#b77acb" stroke-width="0.7" fill="none"/></g>
<g transform="translate(246.60,196.00) rotate(-8)"><ellipse rx="7.90" ry="10.70" fill="none" stroke="#89aaa2" stroke-width="3.6" stroke-dasharray="0.8 0.8" opacity="0.85"/><ellipse rx="4.10" ry="6.90" fill="#15333a" stroke="#2d8a90" stroke-width="3.4"/><ellipse rx="4.10" ry="6.90" fill="none" stroke="#48adb1" stroke-width="2.8" stroke-dasharray="0.01 2.7" stroke-linecap="round"/><ellipse rx="2.40" ry="5.00" fill="#12303a"/><path d="M-2.17,1.89 q1.55,-3.24 4.34,-3.78" stroke="#c0283a" stroke-width="0.7" fill="none"/></g>
<g transform="translate(229.75,205.80) rotate(8)"><ellipse rx="9.25" ry="8.10" fill="none" stroke="#89aaa2" stroke-width="3.6" stroke-dasharray="0.8 0.8" opacity="0.85"/><ellipse rx="5.45" ry="4.30" fill="#15333a" stroke="#2d8a90" stroke-width="3.4"/><ellipse rx="5.45" ry="4.30" fill="none" stroke="#48adb1" stroke-width="2.8" stroke-dasharray="0.01 2.7" stroke-linecap="round"/><ellipse rx="3.75" ry="2.60" fill="#12303a"/><path d="M-3.15,1.05 q2.25,-1.80 6.30,-2.10" stroke="#c0283a" stroke-width="0.7" fill="none"/></g>
<path d="M93.39999999999999,196.0 h6.4 M96.6,192.8 v6.4" stroke="#111" stroke-width="1.3"/>
<path d="M188.20000000000002,196.0 h6.4 M191.4,192.8 v6.4" stroke="#111" stroke-width="1.3"/>
<text x="5.15" y="237.90" font-size="9.1" stroke="#000" stroke-width="0.22" textLength="88.03" lengthAdjust="spacingAndGlyphs" >SC-PGT121 IgM-tail LNPs</text>
<text x="37.31" y="248.40" font-size="9.1" stroke="#000" stroke-width="0.22" textLength="23.79" lengthAdjust="spacingAndGlyphs" >(16 ug)</text>
<text x="100.23" y="237.90" font-size="9.1" stroke="#000" stroke-width="0.22" textLength="84.27" lengthAdjust="spacingAndGlyphs" >SC-VRC07 IgM-tail LNPs</text>
<text x="130.51" y="248.40" font-size="9.1" stroke="#000" stroke-width="0.22" textLength="23.79" lengthAdjust="spacingAndGlyphs" >(16 ug)</text>
<text x="211.53" y="237.90" font-size="9.1" stroke="#000" stroke-width="0.22" textLength="48.40" lengthAdjust="spacingAndGlyphs" >sJ-chain LNPs</text>
<text x="225.90" y="248.40" font-size="9.1" stroke="#000" stroke-width="0.22" textLength="19.61" lengthAdjust="spacingAndGlyphs" >(8 ug)</text>
<text x="269.50" y="173.70" font-size="9.1" stroke="#000" stroke-width="0.22" textLength="59.65" lengthAdjust="spacingAndGlyphs" >Retro-orbital (RO)</text>
<text x="286.71" y="184.70" font-size="9.1" stroke="#000" stroke-width="0.22" textLength="25.87" lengthAdjust="spacingAndGlyphs" >delivery</text>
<line x1="279.3" y1="194.5" x2="316.4" y2="194.5" stroke="#333" stroke-width="1.5"/>
<path d="M322.4,194.5 L310.9,190.1 L313.4,194.5 L310.9,198.9 Z" fill="#1a1a1a"/>
<g transform="translate(0,124.5)">
<path d="M415.5,77.6 C424,80.5 431,86 431.8,92.5 C432.2,96.5 429,98.2 424.5,98 C416,97.6 406,95.7 398.5,94.4 C390.5,93 383.5,92.6 378.3,94.2" stroke="#b07c74" stroke-width="2.5" fill="none" stroke-linecap="round"/>
<path d="M415.5,77.6 C424,80.5 431,86 431.8,92.5 C432.2,96.5 429,98.2 424.5,98 C416,97.6 406,95.7 398.5,94.4 C390.5,93 383.5,92.6 378.3,94.2" stroke="#c99c94" stroke-width="0.9" fill="none" stroke-linecap="round"/>
<path d="M390.5,84.6 C394,85.8 397.5,86.8 399,89 L400.5,90.4 L402.5,89.2 C404,87.5 407,86.5 410.5,85.8 L411.5,83.2 Z" fill="#c08d85"/>
<path d="M357.5,78.5 C358.5,82 357,84.5 352.5,85.2 L348,85.6 C346.3,86.2 346.4,88.2 348.2,88.6 L354.5,88.6 C358.5,88.3 361.5,86.3 363.5,82.5 Z" fill="#c39189"/>
<path d="M335.5,64.4 C339,59.5 347,55.5 353.9,53.7 C358,52.8 362,55.5 366.2,56.5 C372,55.6 382,55 388.8,55.3 C396,55.8 402,59.5 406.3,63.1 C411,66.5 415.5,70.5 416.8,75.4 C417.5,78 416.5,80 413.5,81.8 C410,84 404,85.2 397.5,85.5 C390,85.6 384,84.5 378,85 C372,85.6 367,85.4 364,83.5 C360,81 358.5,77.5 355.6,74.9 C352,73 348,72.2 345.1,71.2 C341,69.6 337.5,67.8 335.5,64.4 Z" fill="#3f3936"/>
<path d="M335.5,64.4 C339,59.5 347,55.5 353.9,53.7 C358,52.8 362,55.5 366.2,56.5 C372,55.6 382,55 388.8,55.3 C395,55.7 400,58.5 403.5,62 C405,67 405,72 403.5,75.4 C398,76.5 390,76.2 385,77.5 C378,79.5 371,80.5 365.5,80 C361,79 358.5,77 355.6,74.9 C352,72.5 348,71.6 345.1,70.5 C341,69 337.5,67.6 335.5,64.4 Z" fill="#4b4643"/>
<ellipse cx="357.4" cy="51.9" rx="3.3" ry="2.1" transform="rotate(-18 357.4 51.9)" fill="#3a3532"/>
<ellipse cx="362.1" cy="59.8" rx="3.6" ry="4.7" transform="rotate(12 362.1 59.8)" fill="#b8857f"/>
<ellipse cx="362.5" cy="60" rx="2.5" ry="3.6" transform="rotate(12 362.5 60)" fill="#d2a29b"/>
<circle cx="347.6" cy="61.6" r="1.2" fill="#151212"/>
<ellipse cx="335.9" cy="64.5" rx="0.9" ry="1.1" fill="#d49a94"/>
<path d="M336.3,63.2 l-3.5,-6.2 M336.8,63 l-1.5,-7 M338,66.5 l8,6.5" stroke="#e0e0e0" stroke-width="0.45"/>
</g>
<text x="370.30" y="237.80" font-size="9.1" stroke="#000" stroke-width="0.22" textLength="26.29" lengthAdjust="spacingAndGlyphs" >2 doses</text>
<text x="361.38" y="248.70" font-size="9.1" stroke="#000" stroke-width="0.22" textLength="44.24" lengthAdjust="spacingAndGlyphs" >(day 0 and 2)</text>
<text x="425.82" y="173.70" font-size="9.1" stroke="#000" stroke-width="0.22" textLength="55.50" lengthAdjust="spacingAndGlyphs" >Serum collection</text>
<text x="441.36" y="184.60" font-size="9.1" stroke="#000" stroke-width="0.22" textLength="24.07" lengthAdjust="spacingAndGlyphs" >(day 3)</text>
<line x1="433.1" y1="194.4" x2="470" y2="194.4" stroke="#333" stroke-width="1.5"/>
<path d="M476,194.4 L464.5,190.0 L467,194.4 L464.5,198.8 Z" fill="#1a1a1a"/>
<g transform="translate(0,124.5)">
<path d="M488.6,52 L488.6,97.5 A5.6,5.6 0 0 0 499.8,97.5 L499.8,52 Z" fill="#f2f2f2" stroke="#bdbdbd" stroke-width="0.8"/>
<path d="M489.5,68 L498.9,68 L498.9,93.2 L489.5,87.2 Z" fill="#f9e2a6"/>
<path d="M489.5,87.0 L498.9,93.0 L498.9,97.2 A4.7,4.7 0 0 1 489.5,97.2 Z" fill="#a5343a"/>
<rect x="487.4" y="38.0" width="13.2" height="14.4" rx="1" fill="#e9692b" stroke="#cf5820" stroke-width="0.5"/>
<rect x="487.6" y="38.2" width="12.8" height="2.6" fill="#f07f3e"/>
</g>
<text x="522.10" y="15.50" font-size="20" font-weight="bold" >b</text>
<text x="561.90" y="30.80" font-size="11" stroke="#000" stroke-width="0.22" textLength="104.80" lengthAdjust="spacingAndGlyphs" >Human IgG/IgA ELISA</text>
<path d="M570.5,46.599999999999994 V217.8 M561.5,217.8 H685 M561.5,46.60 H570.5 M561.5,103.67 H570.5 M561.5,160.73 H570.5 M602.9,217.8 V226 M651.8,217.8 V226" stroke="#000" stroke-width="1.1" fill="none"/>
<text x="559.40" y="51.20" font-size="10.8" text-anchor="end" stroke="#000" stroke-width="0.22" textLength="15.86" lengthAdjust="spacingAndGlyphs" >150</text>
<text x="559.40" y="108.27" font-size="10.8" text-anchor="end" stroke="#000" stroke-width="0.22" textLength="15.86" lengthAdjust="spacingAndGlyphs" >100</text>
<text x="559.40" y="165.33" font-size="10.8" text-anchor="end" stroke="#000" stroke-width="0.22" textLength="10.57" lengthAdjust="spacingAndGlyphs" >50</text>
<text x="559.40" y="222.40" font-size="10.8" text-anchor="end" stroke="#000" stroke-width="0.22" textLength="5.29" lengthAdjust="spacingAndGlyphs" >0</text>
<text transform="translate(534.2,122.6) rotate(-90)" font-size="10.5" text-anchor="middle" textLength="119.4" lengthAdjust="spacingAndGlyphs" stroke="#000" stroke-width="0.22">Ab concentration (µg/mL)</text>
<rect x="587" y="196.3" width="31.9" height="21.50" fill="#f9c0c2" stroke="#ff0000" stroke-width="1.2"/>
<rect x="635.7" y="124.0" width="32" height="93.80" fill="#c0c0fa" stroke="#0000ff" stroke-width="1.2"/>
<path d="M592.5,192.4 H613.3 M602.9,192.4 V199.4 M592.5,199.4 H613.3" stroke="#ff0000" stroke-width="1.2"/>
<path d="M644,100.6 H659.8 M651.8,100.6 V146.4 M644,146.4 H659.8" stroke="#0000ff" stroke-width="1.2"/>
<circle cx="592.4" cy="193.3" r="2.5" fill="#ff0000"/>
<circle cx="602.9" cy="195.1" r="2.5" fill="#ff0000"/>
<circle cx="613.3" cy="191.7" r="2.5" fill="#ff0000"/>
<circle cx="592.4" cy="200.6" r="2.5" fill="#ff0000"/>
<circle cx="613.3" cy="198.5" r="2.5" fill="#ff0000"/>
<circle cx="651.8" cy="90.8" r="2.6" fill="#0000ff"/>
<circle cx="651.9" cy="111.3" r="2.6" fill="#0000ff"/>
<circle cx="651.9" cy="125.5" r="2.6" fill="#0000ff"/>
<circle cx="646.8" cy="146.7" r="2.6" fill="#0000ff"/>
<circle cx="657.3" cy="144.4" r="2.6" fill="#0000ff"/>
<text x="603.80" y="186.40" font-size="10.8" text-anchor="middle" stroke="#000" stroke-width="0.22" textLength="20.18" lengthAdjust="spacingAndGlyphs" >19.2</text>
<text x="651.00" y="83.90" font-size="10.8" text-anchor="middle" stroke="#000" stroke-width="0.22" textLength="20.18" lengthAdjust="spacingAndGlyphs" >82.8</text>
<text x="602.70" y="238.60" font-size="9.6" text-anchor="middle" stroke="#000" stroke-width="0.22" textLength="33.00" lengthAdjust="spacingAndGlyphs" >SC-sIgA</text>
<text x="652.20" y="238.60" font-size="9.6" text-anchor="middle" stroke="#000" stroke-width="0.22" textLength="44.30" lengthAdjust="spacingAndGlyphs" >SC-IgM-tail</text>
<text x="1.90" y="278.70" font-size="21" font-weight="bold" >c</text>
<text x="37.00" y="279.90" font-size="9.8" stroke="#000" stroke-width="0.22" textLength="105.10" lengthAdjust="spacingAndGlyphs" >SHIV-KNH1144p2 (clade A)</text>
<line x1="38.4" y1="342.00" x2="139.7" y2="342.00" stroke="#cbcbcb" stroke-width="1.0" stroke-dasharray="3.6 1.1"/>
<path d="M38.4,290.5 V393.5 M34.3,393.5 H140.2 M34.3,290.50 H38.4 M34.3,316.25 H38.4 M34.3,342.00 H38.4 M34.3,367.75 H38.4 M38.40,393.5 V397.3 M55.28,393.5 V397.3 M72.17,393.5 V397.3 M89.05,393.5 V397.3 M105.93,393.5 V397.3 M122.82,393.5 V397.3 M139.70,393.5 V397.3 " stroke="#000" stroke-width="1.2" fill="none"/>
<text x="33.10" y="293.00" font-size="7.7" text-anchor="end" stroke="#000" stroke-width="0.22" >100</text>
<text x="33.10" y="318.75" font-size="7.7" text-anchor="end" stroke="#000" stroke-width="0.22" >75</text>
<text x="33.10" y="344.50" font-size="7.7" text-anchor="end" stroke="#000" stroke-width="0.22" >50</text>
<text x="33.10" y="370.25" font-size="7.7" text-anchor="end" stroke="#000" stroke-width="0.22" >25</text>
<text x="33.10" y="396.00" font-size="7.7" text-anchor="end" stroke="#000" stroke-width="0.22" >0</text>
<text x="32.30" y="407.00" font-size="9.2" stroke="#000" stroke-width="0.22" textLength="7.60" lengthAdjust="spacingAndGlyphs" >10</text>
<text x="39.80" y="403.50" font-size="4.8" stroke="#000" stroke-width="0.22" >-3</text>
<text x="49.18" y="407.00" font-size="9.2" stroke="#000" stroke-width="0.22" textLength="7.60" lengthAdjust="spacingAndGlyphs" >10</text>
<text x="56.68" y="403.50" font-size="4.8" stroke="#000" stroke-width="0.22" >-2</text>
<text x="66.07" y="407.00" font-size="9.2" stroke="#000" stroke-width="0.22" textLength="7.60" lengthAdjust="spacingAndGlyphs" >10</text>
<text x="73.57" y="403.50" font-size="4.8" stroke="#000" stroke-width="0.22" >-1</text>
<text x="82.95" y="407.00" font-size="9.2" stroke="#000" stroke-width="0.22" textLength="7.60" lengthAdjust="spacingAndGlyphs" >10</text>
<text x="90.45" y="403.50" font-size="4.8" stroke="#000" stroke-width="0.22" >0</text>
<text x="99.83" y="407.00" font-size="9.2" stroke="#000" stroke-width="0.22" textLength="7.60" lengthAdjust="spacingAndGlyphs" >10</text>
<text x="107.33" y="403.50" font-size="4.8" stroke="#000" stroke-width="0.22" >1</text>
<text x="116.72" y="407.00" font-size="9.2" stroke="#000" stroke-width="0.22" textLength="7.60" lengthAdjust="spacingAndGlyphs" >10</text>
<text x="124.22" y="403.50" font-size="4.8" stroke="#000" stroke-width="0.22" >2</text>
<text x="133.60" y="407.00" font-size="9.2" stroke="#000" stroke-width="0.22" textLength="7.60" lengthAdjust="spacingAndGlyphs" >10</text>
<text x="141.10" y="403.50" font-size="4.8" stroke="#000" stroke-width="0.22" >3</text>
<text x="89.65" y="417.00" font-size="9.7" text-anchor="middle" stroke="#000" stroke-width="0.22" textLength="84.10" lengthAdjust="spacingAndGlyphs" >Ab concentration (ng/mL)</text>
<text transform="translate(19.4,337) rotate(-90)" font-size="9.7" text-anchor="middle" textLength="58.6" lengthAdjust="spacingAndGlyphs">Neutralization (%)</text>
<polyline points="38.40,393.50 57.09,393.50 68.89,393.50 80.69,393.50 92.49,393.50 104.30,388.76 116.10,385.77 127.90,387.94 139.70,375.48" fill="none" stroke="#000" stroke-width="1.3"/>
<path d="M104.30,387.22 V390.31 M102.40,387.22 h3.8 M102.40,390.31 h3.8 M116.10,383.71 V387.83 M114.20,383.71 h3.8 M114.20,387.83 h3.8 M127.90,384.85 V391.03 M126.00,384.85 h3.8 M126.00,391.03 h3.8 M139.70,370.32 V380.62 M137.80,370.32 h3.8 M137.80,380.62 h3.8 " stroke="#000" stroke-width="1" fill="none"/>
<path d="M38.40,390.90 l2.5,4.2 h-5 z" fill="#000"/>
<path d="M57.09,390.90 l2.5,4.2 h-5 z" fill="#000"/>
<path d="M68.89,390.90 l2.5,4.2 h-5 z" fill="#000"/>
<path d="M80.69,390.90 l2.5,4.2 h-5 z" fill="#000"/>
<path d="M92.49,390.90 l2.5,4.2 h-5 z" fill="#000"/>
<path d="M104.30,386.16 l2.5,4.2 h-5 z" fill="#000"/>
<path d="M116.10,383.17 l2.5,4.2 h-5 z" fill="#000"/>
<path d="M127.90,385.34 l2.5,4.2 h-5 z" fill="#000"/>
<path d="M139.70,372.88 l2.5,4.2 h-5 z" fill="#000"/>
<polyline points="38.40,393.50 57.09,393.50 68.89,390.93 80.69,387.83 92.49,377.02 104.30,366.72 116.10,345.09 127.90,319.34 139.70,304.40" fill="none" stroke="#0000ff" stroke-width="1.3"/>
<path d="M68.89,389.38 V392.47 M66.99,389.38 h3.8 M66.99,392.47 h3.8 M80.69,385.77 V389.89 M78.79,385.77 h3.8 M78.79,389.89 h3.8 M92.49,370.84 V383.20 M90.59,370.84 h3.8 M90.59,383.20 h3.8 M104.30,359.00 V374.44 M102.40,359.00 h3.8 M102.40,374.44 h3.8 M116.10,329.64 V360.54 M114.20,329.64 h3.8 M114.20,360.54 h3.8 M127.90,311.10 V327.58 M126.00,311.10 h3.8 M126.00,327.58 h3.8 M139.70,295.13 V313.68 M137.80,295.13 h3.8 M137.80,313.68 h3.8 " stroke="#0000ff" stroke-width="1" fill="none"/>
<rect x="36.30" y="391.40" width="4.2" height="4.2" fill="#0000ff"/>
<rect x="54.99" y="391.40" width="4.2" height="4.2" fill="#0000ff"/>
<rect x="66.79" y="388.82" width="4.2" height="4.2" fill="#0000ff"/>
<rect x="78.59" y="385.73" width="4.2" height="4.2" fill="#0000ff"/>
<rect x="90.39" y="374.92" width="4.2" height="4.2" fill="#0000ff"/>
<rect x="102.20" y="364.62" width="4.2" height="4.2" fill="#0000ff"/>
<rect x="114.00" y="342.99" width="4.2" height="4.2" fill="#0000ff"/>
<rect x="125.80" y="317.24" width="4.2" height="4.2" fill="#0000ff"/>
<rect x="137.60" y="302.30" width="4.2" height="4.2" fill="#0000ff"/>
<polyline points="38.40,393.50 57.09,393.50 68.89,390.93 80.69,391.95 92.49,386.81 104.30,385.26 116.10,381.14 127.90,347.67 139.70,323.46" fill="none" stroke="#ff0000" stroke-width="1.3"/>
<path d="M68.89,388.35 V393.50 M66.99,388.35 h3.8 M66.99,393.50 h3.8 M80.69,390.93 V392.99 M78.79,390.93 h3.8 M78.79,392.99 h3.8 M92.49,381.65 V391.95 M90.59,381.65 h3.8 M90.59,391.95 h3.8 M104.30,381.14 V389.38 M102.40,381.14 h3.8 M102.40,389.38 h3.8 M116.10,370.84 V391.44 M114.20,370.84 h3.8 M114.20,391.44 h3.8 M127.90,330.15 V365.18 M126.00,330.15 h3.8 M126.00,365.18 h3.8 M139.70,304.92 V342.00 M137.80,304.92 h3.8 M137.80,342.00 h3.8 " stroke="#ff0000" stroke-width="1" fill="none"/>
<circle cx="38.40" cy="393.50" r="2.2" fill="#ff0000"/>
<circle cx="57.09" cy="393.50" r="2.2" fill="#ff0000"/>
<circle cx="68.89" cy="390.93" r="2.2" fill="#ff0000"/>
<circle cx="80.69" cy="391.95" r="2.2" fill="#ff0000"/>
<circle cx="92.49" cy="386.81" r="2.2" fill="#ff0000"/>
<circle cx="104.30" cy="385.26" r="2.2" fill="#ff0000"/>
<circle cx="116.10" cy="381.14" r="2.2" fill="#ff0000"/>
<circle cx="127.90" cy="347.67" r="2.2" fill="#ff0000"/>
<circle cx="139.70" cy="323.46" r="2.2" fill="#ff0000"/>
<text x="183.50" y="279.90" font-size="9.8" stroke="#000" stroke-width="0.22" textLength="83.60" lengthAdjust="spacingAndGlyphs" >SHIV-162p3 (clade B)</text>
<line x1="172.1" y1="343.00" x2="273.2" y2="343.00" stroke="#cbcbcb" stroke-width="1.0" stroke-dasharray="3.6 1.1"/>
<path d="M172.1,292.5 V393.5 M168.0,393.5 H273.7 M168.0,292.50 H172.1 M168.0,317.75 H172.1 M168.0,343.00 H172.1 M168.0,368.25 H172.1 M172.10,393.5 V397.3 M188.95,393.5 V397.3 M205.80,393.5 V397.3 M222.65,393.5 V397.3 M239.50,393.5 V397.3 M256.35,393.5 V397.3 M273.20,393.5 V397.3 " stroke="#000" stroke-width="1.2" fill="none"/>
<text x="166.80" y="295.00" font-size="7.7" text-anchor="end" stroke="#000" stroke-width="0.22" >100</text>
<text x="166.80" y="320.25" font-size="7.7" text-anchor="end" stroke="#000" stroke-width="0.22" >75</text>
<text x="166.80" y="345.50" font-size="7.7" text-anchor="end" stroke="#000" stroke-width="0.22" >50</text>
<text x="166.80" y="370.75" font-size="7.7" text-anchor="end" stroke="#000" stroke-width="0.22" >25</text>
<text x="166.80" y="396.00" font-size="7.7" text-anchor="end" stroke="#000" stroke-width="0.22" >0</text>
<text x="166.00" y="407.00" font-size="9.2" stroke="#000" stroke-width="0.22" textLength="7.60" lengthAdjust="spacingAndGlyphs" >10</text>
<text x="173.50" y="403.50" font-size="4.8" stroke="#000" stroke-width="0.22" >-3</text>
<text x="182.85" y="407.00" font-size="9.2" stroke="#000" stroke-width="0.22" textLength="7.60" lengthAdjust="spacingAndGlyphs" >10</text>
<text x="190.35" y="403.50" font-size="4.8" stroke="#000" stroke-width="0.22" >-2</text>
<text x="199.70" y="407.00" font-size="9.2" stroke="#000" stroke-width="0.22" textLength="7.60" lengthAdjust="spacingAndGlyphs" >10</text>
<text x="207.20" y="403.50" font-size="4.8" stroke="#000" stroke-width="0.22" >-1</text>
<text x="216.55" y="407.00" font-size="9.2" stroke="#000" stroke-width="0.22" textLength="7.60" lengthAdjust="spacingAndGlyphs" >10</text>
<text x="224.05" y="403.50" font-size="4.8" stroke="#000" stroke-width="0.22" >0</text>
<text x="233.40" y="407.00" font-size="9.2" stroke="#000" stroke-width="0.22" textLength="7.60" lengthAdjust="spacingAndGlyphs" >10</text>
<text x="240.90" y="403.50" font-size="4.8" stroke="#000" stroke-width="0.22" >1</text>
<text x="250.25" y="407.00" font-size="9.2" stroke="#000" stroke-width="0.22" textLength="7.60" lengthAdjust="spacingAndGlyphs" >10</text>
<text x="257.75" y="403.50" font-size="4.8" stroke="#000" stroke-width="0.22" >2</text>
<text x="267.10" y="407.00" font-size="9.2" stroke="#000" stroke-width="0.22" textLength="7.60" lengthAdjust="spacingAndGlyphs" >10</text>
<text x="274.60" y="403.50" font-size="4.8" stroke="#000" stroke-width="0.22" >3</text>
<text x="223.25" y="417.00" font-size="9.7" text-anchor="middle" stroke="#000" stroke-width="0.22" textLength="84.10" lengthAdjust="spacingAndGlyphs" >Ab concentration (ng/mL)</text>
<polyline points="172.10,393.50 190.75,393.50 202.53,393.50 214.31,393.50 226.09,393.50 237.87,389.46 249.64,388.45 261.42,384.41 273.20,366.74" fill="none" stroke="#000" stroke-width="1.3"/>
<path d="M237.87,386.43 V392.49 M235.97,386.43 h3.8 M235.97,392.49 h3.8 M249.64,386.43 V390.47 M247.74,386.43 h3.8 M247.74,390.47 h3.8 M261.42,376.33 V392.49 M259.52,376.33 h3.8 M259.52,392.49 h3.8 M273.20,363.70 V369.76 M271.30,363.70 h3.8 M271.30,369.76 h3.8 " stroke="#000" stroke-width="1" fill="none"/>
<path d="M172.10,390.90 l2.5,4.2 h-5 z" fill="#000"/>
<path d="M190.75,390.90 l2.5,4.2 h-5 z" fill="#000"/>
<path d="M202.53,390.90 l2.5,4.2 h-5 z" fill="#000"/>
<path d="M214.31,390.90 l2.5,4.2 h-5 z" fill="#000"/>
<path d="M226.09,390.90 l2.5,4.2 h-5 z" fill="#000"/>
<path d="M237.87,386.86 l2.5,4.2 h-5 z" fill="#000"/>
<path d="M249.64,385.85 l2.5,4.2 h-5 z" fill="#000"/>
<path d="M261.42,381.81 l2.5,4.2 h-5 z" fill="#000"/>
<path d="M273.20,364.13 l2.5,4.2 h-5 z" fill="#000"/>
<polyline points="172.10,393.50 190.75,393.50 202.53,385.42 214.31,374.31 226.09,359.16 237.87,334.92 249.64,315.73 261.42,292.50 273.20,292.50" fill="none" stroke="#0000ff" stroke-width="1.3"/>
<path d="M202.53,381.38 V389.46 M200.63,381.38 h3.8 M200.63,389.46 h3.8 M214.31,368.25 V380.37 M212.41,368.25 h3.8 M212.41,380.37 h3.8 M226.09,351.08 V367.24 M224.19,351.08 h3.8 M224.19,367.24 h3.8 M237.87,319.77 V350.07 M235.97,319.77 h3.8 M235.97,350.07 h3.8 M249.64,309.67 V321.79 M247.74,309.67 h3.8 M247.74,321.79 h3.8 " stroke="#0000ff" stroke-width="1" fill="none"/>
<rect x="170.00" y="391.40" width="4.2" height="4.2" fill="#0000ff"/>
<rect x="188.65" y="391.40" width="4.2" height="4.2" fill="#0000ff"/>
<rect x="200.43" y="383.32" width="4.2" height="4.2" fill="#0000ff"/>
<rect x="212.21" y="372.21" width="4.2" height="4.2" fill="#0000ff"/>
<rect x="223.99" y="357.06" width="4.2" height="4.2" fill="#0000ff"/>
<rect x="235.77" y="332.82" width="4.2" height="4.2" fill="#0000ff"/>
<rect x="247.54" y="313.63" width="4.2" height="4.2" fill="#0000ff"/>
<rect x="259.32" y="290.40" width="4.2" height="4.2" fill="#0000ff"/>
<rect x="271.10" y="290.40" width="4.2" height="4.2" fill="#0000ff"/>
<polyline points="172.10,393.50 190.75,393.50 202.53,389.46 214.31,386.43 226.09,386.94 237.87,365.73 249.64,344.01 261.42,318.76 273.20,292.50" fill="none" stroke="#ff0000" stroke-width="1.3"/>
<path d="M202.53,388.45 V390.47 M200.63,388.45 h3.8 M200.63,390.47 h3.8 M214.31,385.42 V387.44 M212.41,385.42 h3.8 M212.41,387.44 h3.8 M226.09,382.89 V390.98 M224.19,382.89 h3.8 M224.19,390.98 h3.8 M237.87,354.62 V376.83 M235.97,354.62 h3.8 M235.97,376.83 h3.8 M249.64,329.87 V358.15 M247.74,329.87 h3.8 M247.74,358.15 h3.8 M261.42,303.61 V333.91 M259.52,303.61 h3.8 M259.52,333.91 h3.8 " stroke="#ff0000" stroke-width="1" fill="none"/>
<circle cx="172.10" cy="393.50" r="2.2" fill="#ff0000"/>
<circle cx="190.75" cy="393.50" r="2.2" fill="#ff0000"/>
<circle cx="202.53" cy="389.46" r="2.2" fill="#ff0000"/>
<circle cx="214.31" cy="386.43" r="2.2" fill="#ff0000"/>
<circle cx="226.09" cy="386.94" r="2.2" fill="#ff0000"/>
<circle cx="237.87" cy="365.73" r="2.2" fill="#ff0000"/>
<circle cx="249.64" cy="344.01" r="2.2" fill="#ff0000"/>
<circle cx="261.42" cy="318.76" r="2.2" fill="#ff0000"/>
<circle cx="273.20" cy="292.50" r="2.2" fill="#ff0000"/>
<text x="303.00" y="279.90" font-size="9.8" stroke="#000" stroke-width="0.22" textLength="106.90" lengthAdjust="spacingAndGlyphs" >SHIV-1157ipd3N4 (clade C)</text>
<line x1="306.5" y1="342.00" x2="407.5" y2="342.00" stroke="#cbcbcb" stroke-width="1.0" stroke-dasharray="3.6 1.1"/>
<path d="M306.5,290.5 V393.5 M302.4,393.5 H408.0 M302.4,290.50 H306.5 M302.4,316.25 H306.5 M302.4,342.00 H306.5 M302.4,367.75 H306.5 M306.50,393.5 V397.3 M323.33,393.5 V397.3 M340.17,393.5 V397.3 M357.00,393.5 V397.3 M373.83,393.5 V397.3 M390.67,393.5 V397.3 M407.50,393.5 V397.3 " stroke="#000" stroke-width="1.2" fill="none"/>
<text x="301.20" y="293.00" font-size="7.7" text-anchor="end" stroke="#000" stroke-width="0.22" >100</text>
<text x="301.20" y="318.75" font-size="7.7" text-anchor="end" stroke="#000" stroke-width="0.22" >75</text>
<text x="301.20" y="344.50" font-size="7.7" text-anchor="end" stroke="#000" stroke-width="0.22" >50</text>
<text x="301.20" y="370.25" font-size="7.7" text-anchor="end" stroke="#000" stroke-width="0.22" >25</text>
<text x="301.20" y="396.00" font-size="7.7" text-anchor="end" stroke="#000" stroke-width="0.22" >0</text>
<text x="300.40" y="407.00" font-size="9.2" stroke="#000" stroke-width="0.22" textLength="7.60" lengthAdjust="spacingAndGlyphs" >10</text>
<text x="307.90" y="403.50" font-size="4.8" stroke="#000" stroke-width="0.22" >-3</text>
<text x="317.23" y="407.00" font-size="9.2" stroke="#000" stroke-width="0.22" textLength="7.60" lengthAdjust="spacingAndGlyphs" >10</text>
<text x="324.73" y="403.50" font-size="4.8" stroke="#000" stroke-width="0.22" >-2</text>
<text x="334.07" y="407.00" font-size="9.2" stroke="#000" stroke-width="0.22" textLength="7.60" lengthAdjust="spacingAndGlyphs" >10</text>
<text x="341.57" y="403.50" font-size="4.8" stroke="#000" stroke-width="0.22" >-1</text>
<text x="350.90" y="407.00" font-size="9.2" stroke="#000" stroke-width="0.22" textLength="7.60" lengthAdjust="spacingAndGlyphs" >10</text>
<text x="358.40" y="403.50" font-size="4.8" stroke="#000" stroke-width="0.22" >0</text>
<text x="367.73" y="407.00" font-size="9.2" stroke="#000" stroke-width="0.22" textLength="7.60" lengthAdjust="spacingAndGlyphs" >10</text>
<text x="375.23" y="403.50" font-size="4.8" stroke="#000" stroke-width="0.22" >1</text>
<text x="384.57" y="407.00" font-size="9.2" stroke="#000" stroke-width="0.22" textLength="7.60" lengthAdjust="spacingAndGlyphs" >10</text>
<text x="392.07" y="403.50" font-size="4.8" stroke="#000" stroke-width="0.22" >2</text>
<text x="401.40" y="407.00" font-size="9.2" stroke="#000" stroke-width="0.22" textLength="7.60" lengthAdjust="spacingAndGlyphs" >10</text>
<text x="408.90" y="403.50" font-size="4.8" stroke="#000" stroke-width="0.22" >3</text>
<text x="357.60" y="417.00" font-size="9.7" text-anchor="middle" stroke="#000" stroke-width="0.22" textLength="84.10" lengthAdjust="spacingAndGlyphs" >Ab concentration (ng/mL)</text>
<polyline points="306.50,393.50 325.13,393.50 336.90,393.50 348.67,393.50 360.43,393.50 372.20,391.44 383.97,389.89 395.73,386.29 407.50,375.99" fill="none" stroke="#000" stroke-width="1.3"/>
<path d="M372.20,389.38 V393.50 M370.30,389.38 h3.8 M370.30,393.50 h3.8 M383.97,385.77 V394.01 M382.07,385.77 h3.8 M382.07,394.01 h3.8 M395.73,383.71 V388.87 M393.83,383.71 h3.8 M393.83,388.87 h3.8 M407.50,373.93 V378.05 M405.60,373.93 h3.8 M405.60,378.05 h3.8 " stroke="#000" stroke-width="1" fill="none"/>
<path d="M306.50,390.90 l2.5,4.2 h-5 z" fill="#000"/>
<path d="M325.13,390.90 l2.5,4.2 h-5 z" fill="#000"/>
<path d="M336.90,390.90 l2.5,4.2 h-5 z" fill="#000"/>
<path d="M348.67,390.90 l2.5,4.2 h-5 z" fill="#000"/>
<path d="M360.43,390.90 l2.5,4.2 h-5 z" fill="#000"/>
<path d="M372.20,388.84 l2.5,4.2 h-5 z" fill="#000"/>
<path d="M383.97,387.29 l2.5,4.2 h-5 z" fill="#000"/>
<path d="M395.73,383.69 l2.5,4.2 h-5 z" fill="#000"/>
<path d="M407.50,373.39 l2.5,4.2 h-5 z" fill="#000"/>
<polyline points="306.50,393.50 325.13,393.50 336.90,388.35 348.67,382.69 360.43,372.90 372.20,359.00 383.97,338.39 395.73,319.34 407.50,297.71" fill="none" stroke="#0000ff" stroke-width="1.3"/>
<path d="M336.90,386.29 V390.41 M335.00,386.29 h3.8 M335.00,390.41 h3.8 M348.67,379.08 V386.29 M346.77,379.08 h3.8 M346.77,386.29 h3.8 M360.43,363.63 V382.17 M358.53,363.63 h3.8 M358.53,382.17 h3.8 M372.20,344.57 V373.42 M370.30,344.57 h3.8 M370.30,373.42 h3.8 M383.97,326.03 V350.75 M382.07,326.03 h3.8 M382.07,350.75 h3.8 M395.73,305.95 V332.73 M393.83,305.95 h3.8 M393.83,332.73 h3.8 M407.50,293.59 V301.83 M405.60,293.59 h3.8 M405.60,301.83 h3.8 " stroke="#0000ff" stroke-width="1" fill="none"/>
<rect x="304.40" y="391.40" width="4.2" height="4.2" fill="#0000ff"/>
<rect x="323.03" y="391.40" width="4.2" height="4.2" fill="#0000ff"/>
<rect x="334.80" y="386.25" width="4.2" height="4.2" fill="#0000ff"/>
<rect x="346.57" y="380.58" width="4.2" height="4.2" fill="#0000ff"/>
<rect x="358.33" y="370.80" width="4.2" height="4.2" fill="#0000ff"/>
<rect x="370.10" y="356.89" width="4.2" height="4.2" fill="#0000ff"/>
<rect x="381.87" y="336.29" width="4.2" height="4.2" fill="#0000ff"/>
<rect x="393.63" y="317.24" width="4.2" height="4.2" fill="#0000ff"/>
<rect x="405.40" y="295.61" width="4.2" height="4.2" fill="#0000ff"/>
<polyline points="306.50,393.50 325.13,393.50 336.90,391.44 348.67,387.63 360.43,384.23 372.20,378.05 383.97,367.75 395.73,346.12 407.50,319.34" fill="none" stroke="#ff0000" stroke-width="1.3"/>
<path d="M336.90,390.41 V392.47 M335.00,390.41 h3.8 M335.00,392.47 h3.8 M348.67,384.54 V390.72 M346.77,384.54 h3.8 M346.77,390.72 h3.8 M360.43,379.08 V389.38 M358.53,379.08 h3.8 M358.53,389.38 h3.8 M372.20,372.90 V383.20 M370.30,372.90 h3.8 M370.30,383.20 h3.8 M383.97,360.54 V374.96 M382.07,360.54 h3.8 M382.07,374.96 h3.8 M395.73,330.67 V361.57 M393.83,330.67 h3.8 M393.83,361.57 h3.8 M407.50,309.04 V329.64 M405.60,309.04 h3.8 M405.60,329.64 h3.8 " stroke="#ff0000" stroke-width="1" fill="none"/>
<circle cx="306.50" cy="393.50" r="2.2" fill="#ff0000"/>
<circle cx="325.13" cy="393.50" r="2.2" fill="#ff0000"/>
<circle cx="336.90" cy="391.44" r="2.2" fill="#ff0000"/>
<circle cx="348.67" cy="387.63" r="2.2" fill="#ff0000"/>
<circle cx="360.43" cy="384.23" r="2.2" fill="#ff0000"/>
<circle cx="372.20" cy="378.05" r="2.2" fill="#ff0000"/>
<circle cx="383.97" cy="367.75" r="2.2" fill="#ff0000"/>
<circle cx="395.73" cy="346.12" r="2.2" fill="#ff0000"/>
<circle cx="407.50" cy="319.34" r="2.2" fill="#ff0000"/>
<text x="454.10" y="279.90" font-size="9.8" stroke="#000" stroke-width="0.22" textLength="81.10" lengthAdjust="spacingAndGlyphs" >SHIV-C109 (clade C)</text>
<line x1="441.4" y1="343.00" x2="542.5" y2="343.00" stroke="#cbcbcb" stroke-width="1.0" stroke-dasharray="3.6 1.1"/>
<path d="M441.4,292.5 V393.5 M437.29999999999995,393.5 H543.0 M437.29999999999995,292.50 H441.4 M437.29999999999995,317.75 H441.4 M437.29999999999995,343.00 H441.4 M437.29999999999995,368.25 H441.4 M441.40,393.5 V397.3 M458.25,393.5 V397.3 M475.10,393.5 V397.3 M491.95,393.5 V397.3 M508.80,393.5 V397.3 M525.65,393.5 V397.3 M542.50,393.5 V397.3 " stroke="#000" stroke-width="1.2" fill="none"/>
<text x="436.10" y="295.00" font-size="7.7" text-anchor="end" stroke="#000" stroke-width="0.22" >100</text>
<text x="436.10" y="320.25" font-size="7.7" text-anchor="end" stroke="#000" stroke-width="0.22" >75</text>
<text x="436.10" y="345.50" font-size="7.7" text-anchor="end" stroke="#000" stroke-width="0.22" >50</text>
<text x="436.10" y="370.75" font-size="7.7" text-anchor="end" stroke="#000" stroke-width="0.22" >25</text>
<text x="436.10" y="396.00" font-size="7.7" text-anchor="end" stroke="#000" stroke-width="0.22" >0</text>
<text x="435.30" y="407.00" font-size="9.2" stroke="#000" stroke-width="0.22" textLength="7.60" lengthAdjust="spacingAndGlyphs" >10</text>
<text x="442.80" y="403.50" font-size="4.8" stroke="#000" stroke-width="0.22" >-3</text>
<text x="452.15" y="407.00" font-size="9.2" stroke="#000" stroke-width="0.22" textLength="7.60" lengthAdjust="spacingAndGlyphs" >10</text>
<text x="459.65" y="403.50" font-size="4.8" stroke="#000" stroke-width="0.22" >-2</text>
<text x="469.00" y="407.00" font-size="9.2" stroke="#000" stroke-width="0.22" textLength="7.60" lengthAdjust="spacingAndGlyphs" >10</text>
<text x="476.50" y="403.50" font-size="4.8" stroke="#000" stroke-width="0.22" >-1</text>
<text x="485.85" y="407.00" font-size="9.2" stroke="#000" stroke-width="0.22" textLength="7.60" lengthAdjust="spacingAndGlyphs" >10</text>
<text x="493.35" y="403.50" font-size="4.8" stroke="#000" stroke-width="0.22" >0</text>
<text x="502.70" y="407.00" font-size="9.2" stroke="#000" stroke-width="0.22" textLength="7.60" lengthAdjust="spacingAndGlyphs" >10</text>
<text x="510.20" y="403.50" font-size="4.8" stroke="#000" stroke-width="0.22" >1</text>
<text x="519.55" y="407.00" font-size="9.2" stroke="#000" stroke-width="0.22" textLength="7.60" lengthAdjust="spacingAndGlyphs" >10</text>
<text x="527.05" y="403.50" font-size="4.8" stroke="#000" stroke-width="0.22" >2</text>
<text x="536.40" y="407.00" font-size="9.2" stroke="#000" stroke-width="0.22" textLength="7.60" lengthAdjust="spacingAndGlyphs" >10</text>
<text x="543.90" y="403.50" font-size="4.8" stroke="#000" stroke-width="0.22" >3</text>
<text x="492.55" y="417.00" font-size="9.7" text-anchor="middle" stroke="#000" stroke-width="0.22" textLength="84.10" lengthAdjust="spacingAndGlyphs" >Ab concentration (ng/mL)</text>
<polyline points="441.40,393.50 460.05,393.50 471.83,393.50 483.61,393.50 495.39,393.50 507.17,391.48 518.94,389.16 530.72,381.38 542.50,371.79" fill="none" stroke="#000" stroke-width="1.3"/>
<path d="M507.17,388.45 V394.51 M505.27,388.45 h3.8 M505.27,394.51 h3.8 M518.94,385.12 V393.20 M517.04,385.12 h3.8 M517.04,393.20 h3.8 M530.72,376.33 V386.43 M528.82,376.33 h3.8 M528.82,386.43 h3.8 M542.50,369.76 V373.81 M540.60,369.76 h3.8 M540.60,373.81 h3.8 " stroke="#000" stroke-width="1" fill="none"/>
<path d="M441.40,390.90 l2.5,4.2 h-5 z" fill="#000"/>
<path d="M460.05,390.90 l2.5,4.2 h-5 z" fill="#000"/>
<path d="M471.83,390.90 l2.5,4.2 h-5 z" fill="#000"/>
<path d="M483.61,390.90 l2.5,4.2 h-5 z" fill="#000"/>
<path d="M495.39,390.90 l2.5,4.2 h-5 z" fill="#000"/>
<path d="M507.17,388.88 l2.5,4.2 h-5 z" fill="#000"/>
<path d="M518.94,386.56 l2.5,4.2 h-5 z" fill="#000"/>
<path d="M530.72,378.78 l2.5,4.2 h-5 z" fill="#000"/>
<path d="M542.50,369.19 l2.5,4.2 h-5 z" fill="#000"/>
<polyline points="441.40,393.50 460.05,393.50 471.83,391.99 483.61,378.35 495.39,356.63 507.17,332.90 518.94,306.64 530.72,292.50 542.50,292.50" fill="none" stroke="#0000ff" stroke-width="1.3"/>
<path d="M471.83,390.98 V393.00 M469.93,390.98 h3.8 M469.93,393.00 h3.8 M483.61,372.29 V384.41 M481.71,372.29 h3.8 M481.71,384.41 h3.8 M495.39,347.55 V365.73 M493.49,347.55 h3.8 M493.49,365.73 h3.8 M507.17,322.80 V343.00 M505.27,322.80 h3.8 M505.27,343.00 h3.8 M518.94,303.11 V310.18 M517.04,303.11 h3.8 M517.04,310.18 h3.8 " stroke="#0000ff" stroke-width="1" fill="none"/>
<rect x="439.30" y="391.40" width="4.2" height="4.2" fill="#0000ff"/>
<rect x="457.95" y="391.40" width="4.2" height="4.2" fill="#0000ff"/>
<rect x="469.73" y="389.88" width="4.2" height="4.2" fill="#0000ff"/>
<rect x="481.51" y="376.25" width="4.2" height="4.2" fill="#0000ff"/>
<rect x="493.29" y="354.53" width="4.2" height="4.2" fill="#0000ff"/>
<rect x="505.07" y="330.80" width="4.2" height="4.2" fill="#0000ff"/>
<rect x="516.84" y="304.54" width="4.2" height="4.2" fill="#0000ff"/>
<rect x="528.62" y="290.40" width="4.2" height="4.2" fill="#0000ff"/>
<rect x="540.40" y="290.40" width="4.2" height="4.2" fill="#0000ff"/>
<polyline points="441.40,393.50 460.05,393.50 471.83,389.46 483.61,387.84 495.39,381.38 507.17,367.24 518.94,347.04 530.72,327.85 542.50,305.63" fill="none" stroke="#ff0000" stroke-width="1.3"/>
<path d="M471.83,386.43 V392.49 M469.93,386.43 h3.8 M469.93,392.49 h3.8 M483.61,381.78 V393.90 M481.71,381.78 h3.8 M481.71,393.90 h3.8 M495.39,371.28 V391.48 M493.49,371.28 h3.8 M493.49,391.48 h3.8 M507.17,355.12 V379.36 M505.27,355.12 h3.8 M505.27,379.36 h3.8 M518.94,333.91 V360.17 M517.04,333.91 h3.8 M517.04,360.17 h3.8 M530.72,317.75 V337.95 M528.82,317.75 h3.8 M528.82,337.95 h3.8 M542.50,297.55 V313.71 M540.60,297.55 h3.8 M540.60,313.71 h3.8 " stroke="#ff0000" stroke-width="1" fill="none"/>
<circle cx="441.40" cy="393.50" r="2.2" fill="#ff0000"/>
<circle cx="460.05" cy="393.50" r="2.2" fill="#ff0000"/>
<circle cx="471.83" cy="389.46" r="2.2" fill="#ff0000"/>
<circle cx="483.61" cy="387.84" r="2.2" fill="#ff0000"/>
<circle cx="495.39" cy="381.38" r="2.2" fill="#ff0000"/>
<circle cx="507.17" cy="367.24" r="2.2" fill="#ff0000"/>
<circle cx="518.94" cy="347.04" r="2.2" fill="#ff0000"/>
<circle cx="530.72" cy="327.85" r="2.2" fill="#ff0000"/>
<circle cx="542.50" cy="305.63" r="2.2" fill="#ff0000"/>
<text x="582.20" y="279.90" font-size="9.8" stroke="#000" stroke-width="0.22" textLength="93.50" lengthAdjust="spacingAndGlyphs" >HIV-1-RV217 (clade AE)</text>
<line x1="577.3" y1="342.15" x2="678.9" y2="342.15" stroke="#cbcbcb" stroke-width="1.0" stroke-dasharray="3.6 1.1"/>
<path d="M577.3,290.8 V393.5 M573.1999999999999,393.5 H679.4 M573.1999999999999,290.80 H577.3 M573.1999999999999,316.48 H577.3 M573.1999999999999,342.15 H577.3 M573.1999999999999,367.82 H577.3 M577.30,393.5 V397.3 M594.23,393.5 V397.3 M611.17,393.5 V397.3 M628.10,393.5 V397.3 M645.03,393.5 V397.3 M661.97,393.5 V397.3 M678.90,393.5 V397.3 " stroke="#000" stroke-width="1.2" fill="none"/>
<text x="572.00" y="293.30" font-size="7.7" text-anchor="end" stroke="#000" stroke-width="0.22" >100</text>
<text x="572.00" y="318.98" font-size="7.7" text-anchor="end" stroke="#000" stroke-width="0.22" >75</text>
<text x="572.00" y="344.65" font-size="7.7" text-anchor="end" stroke="#000" stroke-width="0.22" >50</text>
<text x="572.00" y="370.32" font-size="7.7" text-anchor="end" stroke="#000" stroke-width="0.22" >25</text>
<text x="572.00" y="396.00" font-size="7.7" text-anchor="end" stroke="#000" stroke-width="0.22" >0</text>
<text x="571.20" y="407.00" font-size="9.2" stroke="#000" stroke-width="0.22" textLength="7.60" lengthAdjust="spacingAndGlyphs" >10</text>
<text x="578.70" y="403.50" font-size="4.8" stroke="#000" stroke-width="0.22" >-3</text>
<text x="588.13" y="407.00" font-size="9.2" stroke="#000" stroke-width="0.22" textLength="7.60" lengthAdjust="spacingAndGlyphs" >10</text>
<text x="595.63" y="403.50" font-size="4.8" stroke="#000" stroke-width="0.22" >-2</text>
<text x="605.07" y="407.00" font-size="9.2" stroke="#000" stroke-width="0.22" textLength="7.60" lengthAdjust="spacingAndGlyphs" >10</text>
<text x="612.57" y="403.50" font-size="4.8" stroke="#000" stroke-width="0.22" >-1</text>
<text x="622.00" y="407.00" font-size="9.2" stroke="#000" stroke-width="0.22" textLength="7.60" lengthAdjust="spacingAndGlyphs" >10</text>
<text x="629.50" y="403.50" font-size="4.8" stroke="#000" stroke-width="0.22" >0</text>
<text x="638.93" y="407.00" font-size="9.2" stroke="#000" stroke-width="0.22" textLength="7.60" lengthAdjust="spacingAndGlyphs" >10</text>
<text x="646.43" y="403.50" font-size="4.8" stroke="#000" stroke-width="0.22" >1</text>
<text x="655.87" y="407.00" font-size="9.2" stroke="#000" stroke-width="0.22" textLength="7.60" lengthAdjust="spacingAndGlyphs" >10</text>
<text x="663.37" y="403.50" font-size="4.8" stroke="#000" stroke-width="0.22" >2</text>
<text x="672.80" y="407.00" font-size="9.2" stroke="#000" stroke-width="0.22" textLength="7.60" lengthAdjust="spacingAndGlyphs" >10</text>
<text x="680.30" y="403.50" font-size="4.8" stroke="#000" stroke-width="0.22" >3</text>
<text x="628.70" y="417.00" font-size="9.7" text-anchor="middle" stroke="#000" stroke-width="0.22" textLength="84.10" lengthAdjust="spacingAndGlyphs" >Ab concentration (ng/mL)</text>
<polyline points="577.30,393.50 596.05,393.50 607.88,393.50 619.72,393.50 631.55,393.50 643.39,392.99 655.23,391.96 667.06,390.93 678.90,377.07" fill="none" stroke="#000" stroke-width="1.3"/>
<path d="M667.06,386.82 V395.04 M665.16,386.82 h3.8 M665.16,395.04 h3.8 M678.90,366.80 V387.34 M677.00,366.80 h3.8 M677.00,387.34 h3.8 " stroke="#000" stroke-width="1" fill="none"/>
<path d="M577.30,390.90 l2.5,4.2 h-5 z" fill="#000"/>
<path d="M596.05,390.90 l2.5,4.2 h-5 z" fill="#000"/>
<path d="M607.88,390.90 l2.5,4.2 h-5 z" fill="#000"/>
<path d="M619.72,390.90 l2.5,4.2 h-5 z" fill="#000"/>
<path d="M631.55,390.90 l2.5,4.2 h-5 z" fill="#000"/>
<path d="M643.39,390.39 l2.5,4.2 h-5 z" fill="#000"/>
<path d="M655.23,389.36 l2.5,4.2 h-5 z" fill="#000"/>
<path d="M667.06,388.33 l2.5,4.2 h-5 z" fill="#000"/>
<path d="M678.90,374.47 l2.5,4.2 h-5 z" fill="#000"/>
<polyline points="577.30,393.50 596.05,393.50 607.88,392.47 619.72,391.45 631.55,386.31 643.39,375.01 655.23,355.50 667.06,337.01 678.90,319.56" fill="none" stroke="#0000ff" stroke-width="1.3"/>
<path d="M607.88,391.45 V393.50 M605.98,391.45 h3.8 M605.98,393.50 h3.8 M619.72,390.42 V392.47 M617.82,390.42 h3.8 M617.82,392.47 h3.8 M631.55,383.23 V389.39 M629.65,383.23 h3.8 M629.65,389.39 h3.8 M643.39,367.82 V382.20 M641.49,367.82 h3.8 M641.49,382.20 h3.8 M655.23,339.07 V371.93 M653.33,339.07 h3.8 M653.33,371.93 h3.8 M667.06,323.66 V350.37 M665.16,323.66 h3.8 M665.16,350.37 h3.8 M678.90,307.23 V331.88 M677.00,307.23 h3.8 M677.00,331.88 h3.8 " stroke="#0000ff" stroke-width="1" fill="none"/>
<rect x="575.20" y="391.40" width="4.2" height="4.2" fill="#0000ff"/>
<rect x="593.95" y="391.40" width="4.2" height="4.2" fill="#0000ff"/>
<rect x="605.78" y="390.37" width="4.2" height="4.2" fill="#0000ff"/>
<rect x="617.62" y="389.35" width="4.2" height="4.2" fill="#0000ff"/>
<rect x="629.45" y="384.21" width="4.2" height="4.2" fill="#0000ff"/>
<rect x="641.29" y="372.91" width="4.2" height="4.2" fill="#0000ff"/>
<rect x="653.13" y="353.40" width="4.2" height="4.2" fill="#0000ff"/>
<rect x="664.96" y="334.91" width="4.2" height="4.2" fill="#0000ff"/>
<rect x="676.80" y="317.46" width="4.2" height="4.2" fill="#0000ff"/>
<polyline points="577.30,393.50 596.05,393.50 607.88,391.45 619.72,390.93 631.55,388.37 643.39,386.82 655.23,382.20 667.06,374.50 678.90,362.18" fill="none" stroke="#ff0000" stroke-width="1.3"/>
<path d="M607.88,389.39 V393.50 M605.98,389.39 h3.8 M605.98,393.50 h3.8 M619.72,387.85 V394.01 M617.82,387.85 h3.8 M617.82,394.01 h3.8 M631.55,384.26 V392.47 M629.65,384.26 h3.8 M629.65,392.47 h3.8 M643.39,379.64 V394.01 M641.49,379.64 h3.8 M641.49,394.01 h3.8 M655.23,369.88 V394.53 M653.33,369.88 h3.8 M653.33,394.53 h3.8 M667.06,351.91 V395.50 M665.16,351.91 h3.8 M665.16,395.50 h3.8 M678.90,334.45 V389.91 M677.00,334.45 h3.8 M677.00,389.91 h3.8 " stroke="#ff0000" stroke-width="1" fill="none"/>
<circle cx="577.30" cy="393.50" r="2.2" fill="#ff0000"/>
<circle cx="596.05" cy="393.50" r="2.2" fill="#ff0000"/>
<circle cx="607.88" cy="391.45" r="2.2" fill="#ff0000"/>
<circle cx="619.72" cy="390.93" r="2.2" fill="#ff0000"/>
<circle cx="631.55" cy="388.37" r="2.2" fill="#ff0000"/>
<circle cx="643.39" cy="386.82" r="2.2" fill="#ff0000"/>
<circle cx="655.23" cy="382.20" r="2.2" fill="#ff0000"/>
<circle cx="667.06" cy="374.50" r="2.2" fill="#ff0000"/>
<circle cx="678.90" cy="362.18" r="2.2" fill="#ff0000"/>
<text x="35.50" y="440.30" font-size="10.7" font-weight="bold" textLength="9.95" lengthAdjust="spacingAndGlyphs" >IC</text>
<text x="45.80" y="443.60" font-size="6.3" font-weight="bold" >50</text>
<text x="56.30" y="440.30" font-size="10.7" font-weight="bold" textLength="38.20" lengthAdjust="spacingAndGlyphs" >(ng/mL)</text>
<rect x="190.30" y="477.30" width="80.00" height="17.50" fill="#cce8fb"/>
<rect x="270.00" y="477.30" width="64.30" height="17.50" fill="#cce8fb"/>
<rect x="334.00" y="477.30" width="83.60" height="17.50" fill="#cce8fb"/>
<rect x="417.30" y="477.30" width="60.70" height="17.50" fill="#cce8fb"/>
<rect x="477.70" y="477.30" width="60.90" height="17.50" fill="#cce8fb"/>
<rect x="190.30" y="494.50" width="80.00" height="17.50" fill="#3396f7"/>
<rect x="270.00" y="494.50" width="64.30" height="17.50" fill="#0000f8"/>
<rect x="334.00" y="494.50" width="83.60" height="17.50" fill="#3396f7"/>
<rect x="417.30" y="494.50" width="60.70" height="17.50" fill="#0000f8"/>
<rect x="477.70" y="494.50" width="60.90" height="17.50" fill="#cce8fb"/>
<rect x="190.30" y="511.70" width="80.00" height="17.60" fill="#0000f8"/>
<rect x="270.00" y="511.70" width="64.30" height="17.60" fill="#000066"/>
<rect x="334.00" y="511.70" width="83.60" height="17.60" fill="#0000f8"/>
<rect x="417.30" y="511.70" width="60.70" height="17.60" fill="#000066"/>
<rect x="477.70" y="511.70" width="60.90" height="17.60" fill="#3396f7"/>
<text x="230.15" y="490.50" font-size="10" text-anchor="middle" stroke="#000" stroke-width="0.22" textLength="34.89" lengthAdjust="spacingAndGlyphs" >&gt; 10,000</text>
<text x="302.00" y="490.50" font-size="10" text-anchor="middle" stroke="#000" stroke-width="0.22" textLength="34.89" lengthAdjust="spacingAndGlyphs" >&gt; 10,000</text>
<text x="375.65" y="490.50" font-size="10" text-anchor="middle" stroke="#000" stroke-width="0.22" textLength="34.89" lengthAdjust="spacingAndGlyphs" >&gt; 10,000</text>
<text x="447.50" y="490.50" font-size="10" text-anchor="middle" stroke="#000" stroke-width="0.22" textLength="34.89" lengthAdjust="spacingAndGlyphs" >&gt; 10,000</text>
<text x="508.00" y="490.50" font-size="10" text-anchor="middle" stroke="#000" stroke-width="0.22" textLength="34.89" lengthAdjust="spacingAndGlyphs" >&gt; 10,000</text>
<text x="230.15" y="507.70" font-size="10" text-anchor="middle" font-weight="bold" fill="#fff" textLength="22.27" lengthAdjust="spacingAndGlyphs" >288.1</text>
<text x="302.00" y="507.70" font-size="10" text-anchor="middle" font-weight="bold" fill="#fff" textLength="17.32" lengthAdjust="spacingAndGlyphs" >24.9</text>
<text x="375.65" y="507.70" font-size="10" text-anchor="middle" font-weight="bold" fill="#fff" textLength="22.27" lengthAdjust="spacingAndGlyphs" >207.6</text>
<text x="447.50" y="507.70" font-size="10" text-anchor="middle" font-weight="bold" fill="#fff" textLength="17.32" lengthAdjust="spacingAndGlyphs" >38.9</text>
<text x="508.00" y="507.70" font-size="10" text-anchor="middle" stroke="#000" stroke-width="0.22" textLength="34.89" lengthAdjust="spacingAndGlyphs" >&gt; 10,000</text>
<text x="230.15" y="524.90" font-size="10" text-anchor="middle" font-weight="bold" fill="#fff" textLength="17.32" lengthAdjust="spacingAndGlyphs" >34.8</text>
<text x="302.00" y="524.90" font-size="10" text-anchor="middle" font-weight="bold" fill="#fff" textLength="12.37" lengthAdjust="spacingAndGlyphs" >4.6</text>
<text x="375.65" y="524.90" font-size="10" text-anchor="middle" font-weight="bold" fill="#fff" textLength="17.32" lengthAdjust="spacingAndGlyphs" >22.5</text>
<text x="447.50" y="524.90" font-size="10" text-anchor="middle" font-weight="bold" fill="#fff" textLength="12.37" lengthAdjust="spacingAndGlyphs" >4.6</text>
<text x="508.00" y="524.90" font-size="10" text-anchor="middle" font-weight="bold" fill="#fff" textLength="22.27" lengthAdjust="spacingAndGlyphs" >123.3</text>
<rect x="35.3" y="447.4" width="502.99999999999994" height="81.60000000000002" fill="none" stroke="#111" stroke-width="1.3"/>
<path d="M35.3,477.3 H538.3 M190.3,447.4 V529" stroke="#111" stroke-width="1.2"/>
<text x="112.50" y="473.20" font-size="10.5" text-anchor="middle" font-weight="bold" textLength="40.03" lengthAdjust="spacingAndGlyphs" >Antibody</text>
<text x="230.70" y="459.50" font-size="10.5" text-anchor="middle" font-weight="bold" textLength="33.29" lengthAdjust="spacingAndGlyphs" >Clade A</text>
<text x="230.70" y="473.50" font-size="10" text-anchor="middle" stroke="#000" stroke-width="0.22" textLength="73.30" lengthAdjust="spacingAndGlyphs" >SHIV-KNH1144p2</text>
<text x="302.60" y="459.50" font-size="10.5" text-anchor="middle" font-weight="bold" textLength="33.62" lengthAdjust="spacingAndGlyphs" >Clade B</text>
<text x="302.60" y="473.50" font-size="10" text-anchor="middle" stroke="#000" stroke-width="0.22" textLength="49.00" lengthAdjust="spacingAndGlyphs" >SHIV-162p3</text>
<text x="375.70" y="459.50" font-size="10.5" text-anchor="middle" font-weight="bold" textLength="33.62" lengthAdjust="spacingAndGlyphs" >Clade C</text>
<text x="375.70" y="473.50" font-size="10" text-anchor="middle" stroke="#000" stroke-width="0.22" textLength="73.40" lengthAdjust="spacingAndGlyphs" >SHIV-1157ipd3N4</text>
<text x="447.70" y="459.50" font-size="10.5" text-anchor="middle" font-weight="bold" textLength="33.62" lengthAdjust="spacingAndGlyphs" >Clade C</text>
<text x="447.70" y="473.50" font-size="10" text-anchor="middle" stroke="#000" stroke-width="0.22" textLength="47.00" lengthAdjust="spacingAndGlyphs" >SHIV-C109</text>
<text x="508.50" y="459.50" font-size="10.5" text-anchor="middle" font-weight="bold" textLength="39.31" lengthAdjust="spacingAndGlyphs" >Clade AE</text>
<text x="508.50" y="473.50" font-size="10" text-anchor="middle" stroke="#000" stroke-width="0.22" textLength="54.30" lengthAdjust="spacingAndGlyphs" >HIV-1 RV217</text>
<line x1="39" y1="487.5" x2="61" y2="487.5" stroke="#000" stroke-width="1.3"/>
<path d="M50.3,483.1 L55.8,491.6 L44.8,491.6 Z" fill="#000"/>
<text x="67.90" y="491.20" font-size="10" stroke="#000" stroke-width="0.22" textLength="65.70" lengthAdjust="spacingAndGlyphs" >Negative control</text>
<line x1="39" y1="504.3" x2="61" y2="504.3" stroke="#ff0000" stroke-width="1.3"/>
<circle cx="50.2" cy="504.3" r="4.7" fill="#ff0000"/>
<text x="67.90" y="508.00" font-size="10" stroke="#000" stroke-width="0.22" textLength="105.00" lengthAdjust="spacingAndGlyphs" >SC-PGT121+VRC07 sIgA</text>
<line x1="39" y1="521.1" x2="61" y2="521.1" stroke="#0000ff" stroke-width="1.3"/>
<rect x="45.1" y="516.2" width="10.2" height="9.8" fill="#0000ff"/>
<text x="67.90" y="524.80" font-size="10" stroke="#000" stroke-width="0.22" textLength="116.40" lengthAdjust="spacingAndGlyphs" >SC-PGT121+VRC07 IgM-tail</text>
<text x="568.28" y="474.00" font-size="7.8" font-weight="bold" textLength="6.39" lengthAdjust="spacingAndGlyphs" >IC</text>
<text x="574.75" y="475.20" font-size="4.6" font-weight="bold" textLength="5.55" lengthAdjust="spacingAndGlyphs" >50</text>
<text x="581.45" y="474.00" font-size="7.8" font-weight="bold" textLength="26.30" lengthAdjust="spacingAndGlyphs" >(ng/mL)</text>
<rect x="544.3" y="477.20" width="13.4" height="13.1" fill="#000066"/>
<rect x="544.3" y="490.25" width="13.4" height="13.1" fill="#0000f8"/>
<rect x="544.3" y="503.30" width="13.4" height="13.1" fill="#3396f7"/>
<rect x="544.3" y="516.35" width="13.4" height="13.1" fill="#cce8fb"/>
<text x="558.46" y="486.90" font-size="8" stroke="#000" stroke-width="0.22" textLength="7.00" lengthAdjust="spacingAndGlyphs" >IC</text>
<text x="565.29" y="488.80" font-size="5.0" stroke="#000" stroke-width="0.22" textLength="5.81" lengthAdjust="spacingAndGlyphs" >50</text>
<text x="572.71" y="486.90" font-size="8" stroke="#000" stroke-width="0.22" textLength="4.68" lengthAdjust="spacingAndGlyphs" >&lt;</text>
<text x="579.10" y="486.90" font-size="8" stroke="#000" stroke-width="0.22" textLength="7.36" lengthAdjust="spacingAndGlyphs" >10</text>
<text x="558.97" y="499.90" font-size="8" stroke="#000" stroke-width="0.22" textLength="7.80" lengthAdjust="spacingAndGlyphs" >10</text>
<text x="568.64" y="499.90" font-size="8" stroke="#000" stroke-width="0.22" textLength="4.32" lengthAdjust="spacingAndGlyphs" >&lt;</text>
<text x="574.15" y="499.90" font-size="8" stroke="#000" stroke-width="0.22" textLength="7.12" lengthAdjust="spacingAndGlyphs" >IC</text>
<text x="580.99" y="501.80" font-size="5.0" stroke="#000" stroke-width="0.22" textLength="5.81" lengthAdjust="spacingAndGlyphs" >50</text>
<text x="588.45" y="499.90" font-size="8" stroke="#000" stroke-width="0.22" textLength="4.20" lengthAdjust="spacingAndGlyphs" >&lt;</text>
<text x="593.94" y="499.90" font-size="8" stroke="#000" stroke-width="0.22" textLength="12.24" lengthAdjust="spacingAndGlyphs" >100</text>
<text x="558.99" y="512.90" font-size="8" stroke="#000" stroke-width="0.22" textLength="11.27" lengthAdjust="spacingAndGlyphs" >100</text>
<text x="572.25" y="512.90" font-size="8" stroke="#000" stroke-width="0.22" textLength="4.20" lengthAdjust="spacingAndGlyphs" >&lt;</text>
<text x="578.27" y="512.90" font-size="8" stroke="#000" stroke-width="0.22" textLength="6.89" lengthAdjust="spacingAndGlyphs" >IC</text>
<text x="585.11" y="514.80" font-size="5.0" stroke="#000" stroke-width="0.22" textLength="5.27" lengthAdjust="spacingAndGlyphs" >50</text>
<text x="592.45" y="512.90" font-size="8" stroke="#000" stroke-width="0.22" textLength="4.20" lengthAdjust="spacingAndGlyphs" >&lt;</text>
<text x="598.36" y="512.90" font-size="8" stroke="#000" stroke-width="0.22" textLength="15.71" lengthAdjust="spacingAndGlyphs" >1000</text>
<text x="558.46" y="525.70" font-size="8" stroke="#000" stroke-width="0.22" textLength="7.00" lengthAdjust="spacingAndGlyphs" >IC</text>
<text x="565.29" y="527.60" font-size="5.0" stroke="#000" stroke-width="0.22" textLength="5.81" lengthAdjust="spacingAndGlyphs" >50</text>
<text x="572.71" y="525.70" font-size="8" stroke="#000" stroke-width="0.22" textLength="4.68" lengthAdjust="spacingAndGlyphs" >&gt;</text>
<text x="579.08" y="525.70" font-size="8" stroke="#000" stroke-width="0.22" textLength="15.29" lengthAdjust="spacingAndGlyphs" >1000</text>
</svg>
</body></html>
